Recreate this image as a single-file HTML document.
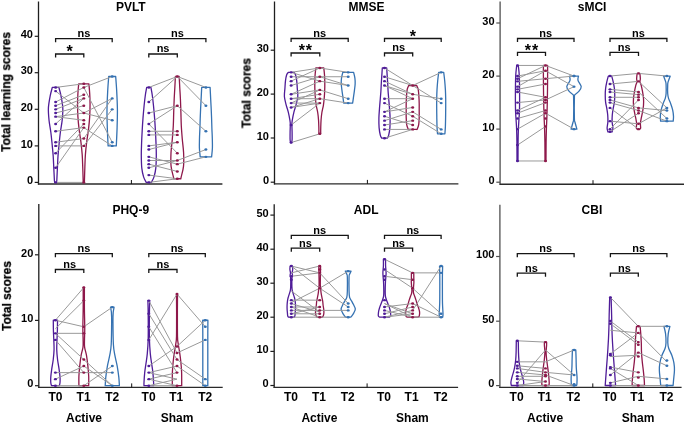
<!DOCTYPE html>
<html><head><meta charset="utf-8"><style>
html,body{margin:0;padding:0;background:#fff;}
svg{display:block;font-family:"Liberation Sans", sans-serif;-webkit-font-smoothing:antialiased;}
text{will-change:transform;}
</style></head><body>
<svg width="685" height="423" viewBox="0 0 685 423">
<rect width="685" height="423" fill="#fff"/>
<line x1="38.50" y1="1.50" x2="38.50" y2="184.60" stroke="#1e1e1e" stroke-width="1.3"/>
<line x1="37.90" y1="184.00" x2="222.40" y2="184.00" stroke="#2a2a2a" stroke-width="1.4"/>
<line x1="131.40" y1="184.00" x2="131.40" y2="180.00" stroke="#111" stroke-width="1.0"/>
<line x1="34.70" y1="182.40" x2="38.50" y2="182.40" stroke="#1e1e1e" stroke-width="1.2"/>
<text x="33.00" y="184.10" font-size="11" text-anchor="end" font-weight="bold" fill="#000">0</text>
<line x1="34.70" y1="145.90" x2="38.50" y2="145.90" stroke="#1e1e1e" stroke-width="1.2"/>
<text x="33.00" y="147.60" font-size="11" text-anchor="end" font-weight="bold" fill="#000">10</text>
<line x1="34.70" y1="109.30" x2="38.50" y2="109.30" stroke="#1e1e1e" stroke-width="1.2"/>
<text x="33.00" y="111.00" font-size="11" text-anchor="end" font-weight="bold" fill="#000">20</text>
<line x1="34.70" y1="72.70" x2="38.50" y2="72.70" stroke="#1e1e1e" stroke-width="1.2"/>
<text x="33.00" y="74.40" font-size="11" text-anchor="end" font-weight="bold" fill="#000">30</text>
<line x1="34.70" y1="36.30" x2="38.50" y2="36.30" stroke="#1e1e1e" stroke-width="1.2"/>
<text x="33.00" y="38.00" font-size="11" text-anchor="end" font-weight="bold" fill="#000">40</text>
<text x="130.80" y="11.20" font-size="12" text-anchor="middle" font-weight="bold" fill="#000">PVLT</text>
<text x="10.20" y="92.00" font-size="12" text-anchor="middle" font-weight="bold" fill="#000" transform="rotate(-90 10.2 92)" stroke="#000" stroke-width="0.25">Total learning scores</text>
<path d="M55.60 42.30V38.70H112.20V42.30" fill="none" stroke="#151515" stroke-width="1.3"/>
<text x="83.90" y="37.00" font-size="11" text-anchor="middle" font-weight="bold" fill="#000">ns</text>
<path d="M55.60 57.60V54.00H83.80V57.60" fill="none" stroke="#151515" stroke-width="1.3"/>
<text x="70.10" y="57.20" font-size="16" text-anchor="middle" font-weight="bold" fill="#000" letter-spacing="0.8">*</text>
<path d="M148.80 42.30V38.70H205.90V42.30" fill="none" stroke="#151515" stroke-width="1.3"/>
<text x="177.35" y="37.00" font-size="11" text-anchor="middle" font-weight="bold" fill="#000">ns</text>
<path d="M148.80 57.60V54.00H177.30V57.60" fill="none" stroke="#151515" stroke-width="1.3"/>
<text x="163.05" y="52.30" font-size="11" text-anchor="middle" font-weight="bold" fill="#000">ns</text>
<path d="M58.90 87.44C59.25 88.84 60.35 92.43 61.00 95.84C61.65 99.24 62.60 103.87 62.80 107.89C63.00 111.91 62.60 115.92 62.20 119.94C61.80 123.96 60.92 127.98 60.40 132.00C59.88 136.01 59.50 140.03 59.10 144.05C58.70 148.07 58.28 152.08 58.00 156.10C57.72 160.12 57.60 164.08 57.40 168.16C57.20 172.23 56.93 178.20 56.80 180.57C56.67 182.95 56.63 182.10 56.60 182.40L54.60 182.40C54.57 182.10 54.53 182.95 54.40 180.57C54.27 178.20 54.00 172.23 53.80 168.16C53.60 164.08 53.48 160.12 53.20 156.10C52.92 152.08 52.50 148.07 52.10 144.05C51.70 140.03 51.32 136.01 50.80 132.00C50.28 127.98 49.40 123.96 49.00 119.94C48.60 115.92 48.20 111.91 48.40 107.89C48.60 103.87 49.55 99.24 50.20 95.84C50.85 92.43 51.95 88.84 52.30 87.44Z" fill="none" stroke="#4f1c98" stroke-width="1.3" stroke-linejoin="round"/>
<path d="M88.90 83.78C89.03 85.43 89.51 90.30 89.70 93.64C89.89 96.99 90.05 100.04 90.05 103.87C90.05 107.71 89.96 112.39 89.70 116.66C89.44 120.92 89.00 125.24 88.50 129.44C88.00 133.64 87.22 137.66 86.70 141.86C86.18 146.06 85.71 150.38 85.40 154.64C85.09 158.90 85.01 163.16 84.85 167.42C84.69 171.69 84.53 177.71 84.45 180.21C84.38 182.70 84.41 182.03 84.40 182.40L83.20 182.40C83.19 182.03 83.22 182.70 83.15 180.21C83.07 177.71 82.91 171.69 82.75 167.42C82.59 163.16 82.51 158.90 82.20 154.64C81.89 150.38 81.42 146.06 80.90 141.86C80.38 137.66 79.60 133.64 79.10 129.44C78.60 125.24 78.16 120.92 77.90 116.66C77.64 112.39 77.55 107.71 77.55 103.87C77.55 100.04 77.71 96.99 77.90 93.64C78.09 90.30 78.57 85.43 78.70 83.78Z" fill="none" stroke="#8e184a" stroke-width="1.3" stroke-linejoin="round"/>
<path d="M115.70 76.48C115.87 78.91 116.42 85.61 116.70 91.09C116.98 96.57 117.33 103.26 117.40 109.35C117.47 115.44 117.28 121.53 117.10 127.61C116.92 133.70 116.43 142.83 116.30 145.88L108.10 145.88C107.97 142.83 107.48 133.70 107.30 127.61C107.12 121.53 106.93 115.44 107.00 109.35C107.07 103.26 107.42 96.57 107.70 91.09C107.98 85.61 108.53 78.91 108.70 76.48Z" fill="none" stroke="#3572b2" stroke-width="1.3" stroke-linejoin="round"/>
<path d="M150.90 87.44C151.13 88.77 151.87 92.43 152.30 95.47C152.73 98.51 153.12 101.92 153.50 105.70C153.88 109.47 154.28 113.98 154.60 118.12C154.92 122.26 155.17 126.40 155.40 130.53C155.63 134.67 155.85 138.81 156.00 142.95C156.15 147.09 156.33 151.17 156.30 155.37C156.27 159.57 156.18 164.56 155.80 168.16C155.42 171.75 154.73 174.55 154.00 176.92C153.27 179.30 151.83 181.49 151.40 182.40L146.20 182.40C145.77 181.49 144.33 179.30 143.60 176.92C142.87 174.55 142.18 171.75 141.80 168.16C141.42 164.56 141.33 159.57 141.30 155.37C141.27 151.17 141.45 147.09 141.60 142.95C141.75 138.81 141.97 134.67 142.20 130.53C142.43 126.40 142.68 122.26 143.00 118.12C143.32 113.98 143.72 109.47 144.10 105.70C144.48 101.92 144.87 98.51 145.30 95.47C145.73 92.43 146.47 88.77 146.70 87.44Z" fill="none" stroke="#4f1c98" stroke-width="1.3" stroke-linejoin="round"/>
<path d="M179.20 76.48C179.30 78.43 179.60 84.45 179.80 88.17C180.00 91.88 180.22 94.68 180.40 98.76C180.58 102.84 180.75 108.13 180.90 112.64C181.05 117.14 181.07 121.34 181.30 125.79C181.53 130.23 181.92 134.80 182.30 139.30C182.68 143.81 183.40 148.31 183.60 152.81C183.80 157.32 183.90 162.31 183.50 166.33C183.10 170.35 181.65 174.85 181.20 176.92C180.75 178.99 180.87 178.44 180.80 178.75L173.80 178.75C173.73 178.44 173.85 178.99 173.40 176.92C172.95 174.85 171.50 170.35 171.10 166.33C170.70 162.31 170.80 157.32 171.00 152.81C171.20 148.31 171.92 143.81 172.30 139.30C172.68 134.80 173.07 130.23 173.30 125.79C173.53 121.34 173.55 117.14 173.70 112.64C173.85 108.13 174.02 102.84 174.20 98.76C174.38 94.68 174.60 91.88 174.80 88.17C175.00 84.45 175.30 78.43 175.40 76.48Z" fill="none" stroke="#8e184a" stroke-width="1.3" stroke-linejoin="round"/>
<path d="M210.10 87.44C210.20 89.44 210.52 95.90 210.70 99.49C210.88 103.08 211.05 105.76 211.20 108.98C211.35 112.21 211.48 115.56 211.60 118.85C211.72 122.13 211.78 125.48 211.90 128.71C212.02 131.93 212.22 134.98 212.30 138.20C212.38 141.43 212.52 144.96 212.40 148.07C212.28 151.17 211.73 155.37 211.60 156.83L200.20 156.83C200.07 155.37 199.52 151.17 199.40 148.07C199.28 144.96 199.42 141.43 199.50 138.20C199.58 134.98 199.78 131.93 199.90 128.71C200.02 125.48 200.08 122.13 200.20 118.85C200.32 115.56 200.45 112.21 200.60 108.98C200.75 105.76 200.92 103.08 201.10 99.49C201.28 95.90 201.60 89.44 201.70 87.44Z" fill="none" stroke="#3572b2" stroke-width="1.3" stroke-linejoin="round"/>
<line x1="55.60" y1="87.44" x2="83.80" y2="83.78" stroke="#999" stroke-width="1.0"/>
<line x1="55.60" y1="91.09" x2="83.80" y2="113.00" stroke="#999" stroke-width="1.0"/>
<line x1="55.60" y1="102.05" x2="83.80" y2="87.44" stroke="#999" stroke-width="1.0"/>
<line x1="55.60" y1="105.70" x2="83.80" y2="94.74" stroke="#999" stroke-width="1.0"/>
<line x1="55.60" y1="109.35" x2="83.80" y2="98.39" stroke="#999" stroke-width="1.0"/>
<line x1="55.60" y1="113.00" x2="83.80" y2="105.70" stroke="#999" stroke-width="1.0"/>
<line x1="55.60" y1="116.66" x2="83.80" y2="113.00" stroke="#999" stroke-width="1.0"/>
<line x1="55.60" y1="116.66" x2="83.80" y2="120.31" stroke="#999" stroke-width="1.0"/>
<line x1="55.60" y1="123.96" x2="83.80" y2="98.39" stroke="#999" stroke-width="1.0"/>
<line x1="55.60" y1="131.27" x2="83.80" y2="127.61" stroke="#999" stroke-width="1.0"/>
<line x1="55.60" y1="142.22" x2="83.80" y2="138.57" stroke="#999" stroke-width="1.0"/>
<line x1="55.60" y1="145.88" x2="83.80" y2="145.88" stroke="#999" stroke-width="1.0"/>
<line x1="55.60" y1="153.18" x2="83.80" y2="123.96" stroke="#999" stroke-width="1.0"/>
<line x1="55.60" y1="167.79" x2="83.80" y2="127.61" stroke="#999" stroke-width="1.0"/>
<line x1="55.60" y1="182.40" x2="83.80" y2="182.40" stroke="#999" stroke-width="1.0"/>
<line x1="83.80" y1="87.44" x2="112.20" y2="76.48" stroke="#999" stroke-width="1.0"/>
<line x1="83.80" y1="113.00" x2="112.20" y2="98.39" stroke="#999" stroke-width="1.0"/>
<line x1="83.80" y1="138.57" x2="112.20" y2="98.39" stroke="#999" stroke-width="1.0"/>
<line x1="83.80" y1="145.88" x2="112.20" y2="109.35" stroke="#999" stroke-width="1.0"/>
<line x1="83.80" y1="113.00" x2="112.20" y2="120.31" stroke="#999" stroke-width="1.0"/>
<line x1="83.80" y1="87.44" x2="112.20" y2="142.22" stroke="#999" stroke-width="1.0"/>
<line x1="83.80" y1="127.61" x2="112.20" y2="145.88" stroke="#999" stroke-width="1.0"/>
<line x1="148.80" y1="87.44" x2="177.30" y2="76.48" stroke="#999" stroke-width="1.0"/>
<line x1="148.80" y1="102.05" x2="177.30" y2="76.48" stroke="#999" stroke-width="1.0"/>
<line x1="148.80" y1="113.00" x2="177.30" y2="105.70" stroke="#999" stroke-width="1.0"/>
<line x1="148.80" y1="123.96" x2="177.30" y2="105.70" stroke="#999" stroke-width="1.0"/>
<line x1="148.80" y1="123.96" x2="177.30" y2="153.18" stroke="#999" stroke-width="1.0"/>
<line x1="148.80" y1="131.27" x2="177.30" y2="131.27" stroke="#999" stroke-width="1.0"/>
<line x1="148.80" y1="134.92" x2="177.30" y2="134.92" stroke="#999" stroke-width="1.0"/>
<line x1="148.80" y1="145.88" x2="177.30" y2="142.22" stroke="#999" stroke-width="1.0"/>
<line x1="148.80" y1="149.53" x2="177.30" y2="142.22" stroke="#999" stroke-width="1.0"/>
<line x1="148.80" y1="156.83" x2="177.30" y2="164.14" stroke="#999" stroke-width="1.0"/>
<line x1="148.80" y1="160.49" x2="177.30" y2="160.49" stroke="#999" stroke-width="1.0"/>
<line x1="148.80" y1="164.14" x2="177.30" y2="171.44" stroke="#999" stroke-width="1.0"/>
<line x1="148.80" y1="167.79" x2="177.30" y2="160.49" stroke="#999" stroke-width="1.0"/>
<line x1="148.80" y1="175.09" x2="177.30" y2="178.75" stroke="#999" stroke-width="1.0"/>
<line x1="148.80" y1="182.40" x2="177.30" y2="178.75" stroke="#999" stroke-width="1.0"/>
<line x1="177.30" y1="76.48" x2="205.90" y2="87.44" stroke="#999" stroke-width="1.0"/>
<line x1="177.30" y1="76.48" x2="205.90" y2="105.70" stroke="#999" stroke-width="1.0"/>
<line x1="177.30" y1="105.70" x2="205.90" y2="131.27" stroke="#999" stroke-width="1.0"/>
<line x1="177.30" y1="160.49" x2="205.90" y2="149.53" stroke="#999" stroke-width="1.0"/>
<line x1="177.30" y1="164.14" x2="205.90" y2="156.83" stroke="#999" stroke-width="1.0"/>
<ellipse cx="55.60" cy="87.44" rx="1.5" ry="1.2" fill="#4f1c98"/>
<ellipse cx="55.60" cy="91.09" rx="1.5" ry="1.2" fill="#4f1c98"/>
<ellipse cx="55.60" cy="102.05" rx="1.5" ry="1.2" fill="#4f1c98"/>
<ellipse cx="55.60" cy="105.70" rx="1.5" ry="1.2" fill="#4f1c98"/>
<ellipse cx="55.60" cy="109.35" rx="1.5" ry="1.2" fill="#4f1c98"/>
<ellipse cx="55.60" cy="113.00" rx="1.5" ry="1.2" fill="#4f1c98"/>
<ellipse cx="55.60" cy="116.66" rx="1.5" ry="1.2" fill="#4f1c98"/>
<ellipse cx="55.60" cy="123.96" rx="1.5" ry="1.2" fill="#4f1c98"/>
<ellipse cx="55.60" cy="131.27" rx="1.5" ry="1.2" fill="#4f1c98"/>
<ellipse cx="55.60" cy="142.22" rx="1.5" ry="1.2" fill="#4f1c98"/>
<ellipse cx="55.60" cy="145.88" rx="1.5" ry="1.2" fill="#4f1c98"/>
<ellipse cx="55.60" cy="153.18" rx="1.5" ry="1.2" fill="#4f1c98"/>
<ellipse cx="55.60" cy="167.79" rx="1.5" ry="1.2" fill="#4f1c98"/>
<ellipse cx="55.60" cy="182.40" rx="1.5" ry="1.2" fill="#4f1c98"/>
<ellipse cx="83.80" cy="83.78" rx="1.5" ry="1.2" fill="#8e184a"/>
<ellipse cx="83.80" cy="87.44" rx="1.5" ry="1.2" fill="#8e184a"/>
<ellipse cx="83.80" cy="94.74" rx="1.5" ry="1.2" fill="#8e184a"/>
<ellipse cx="83.80" cy="98.39" rx="1.5" ry="1.2" fill="#8e184a"/>
<ellipse cx="83.80" cy="105.70" rx="1.5" ry="1.2" fill="#8e184a"/>
<ellipse cx="83.80" cy="113.00" rx="1.5" ry="1.2" fill="#8e184a"/>
<ellipse cx="83.80" cy="120.31" rx="1.5" ry="1.2" fill="#8e184a"/>
<ellipse cx="83.80" cy="123.96" rx="1.5" ry="1.2" fill="#8e184a"/>
<ellipse cx="83.80" cy="127.61" rx="1.5" ry="1.2" fill="#8e184a"/>
<ellipse cx="83.80" cy="138.57" rx="1.5" ry="1.2" fill="#8e184a"/>
<ellipse cx="83.80" cy="145.88" rx="1.5" ry="1.2" fill="#8e184a"/>
<ellipse cx="83.80" cy="182.40" rx="1.5" ry="1.2" fill="#8e184a"/>
<ellipse cx="112.20" cy="76.48" rx="1.5" ry="1.2" fill="#3572b2"/>
<ellipse cx="112.20" cy="98.39" rx="1.5" ry="1.2" fill="#3572b2"/>
<ellipse cx="112.20" cy="109.35" rx="1.5" ry="1.2" fill="#3572b2"/>
<ellipse cx="112.20" cy="120.31" rx="1.5" ry="1.2" fill="#3572b2"/>
<ellipse cx="112.20" cy="142.22" rx="1.5" ry="1.2" fill="#3572b2"/>
<ellipse cx="112.20" cy="145.88" rx="1.5" ry="1.2" fill="#3572b2"/>
<ellipse cx="148.80" cy="87.44" rx="1.5" ry="1.2" fill="#4f1c98"/>
<ellipse cx="148.80" cy="102.05" rx="1.5" ry="1.2" fill="#4f1c98"/>
<ellipse cx="148.80" cy="113.00" rx="1.5" ry="1.2" fill="#4f1c98"/>
<ellipse cx="148.80" cy="123.96" rx="1.5" ry="1.2" fill="#4f1c98"/>
<ellipse cx="148.80" cy="131.27" rx="1.5" ry="1.2" fill="#4f1c98"/>
<ellipse cx="148.80" cy="134.92" rx="1.5" ry="1.2" fill="#4f1c98"/>
<ellipse cx="148.80" cy="145.88" rx="1.5" ry="1.2" fill="#4f1c98"/>
<ellipse cx="148.80" cy="149.53" rx="1.5" ry="1.2" fill="#4f1c98"/>
<ellipse cx="148.80" cy="156.83" rx="1.5" ry="1.2" fill="#4f1c98"/>
<ellipse cx="148.80" cy="160.49" rx="1.5" ry="1.2" fill="#4f1c98"/>
<ellipse cx="148.80" cy="164.14" rx="1.5" ry="1.2" fill="#4f1c98"/>
<ellipse cx="148.80" cy="167.79" rx="1.5" ry="1.2" fill="#4f1c98"/>
<ellipse cx="148.80" cy="175.09" rx="1.5" ry="1.2" fill="#4f1c98"/>
<ellipse cx="148.80" cy="182.40" rx="1.5" ry="1.2" fill="#4f1c98"/>
<ellipse cx="177.30" cy="76.48" rx="1.5" ry="1.2" fill="#8e184a"/>
<ellipse cx="177.30" cy="105.70" rx="1.5" ry="1.2" fill="#8e184a"/>
<ellipse cx="177.30" cy="131.27" rx="1.5" ry="1.2" fill="#8e184a"/>
<ellipse cx="177.30" cy="134.92" rx="1.5" ry="1.2" fill="#8e184a"/>
<ellipse cx="177.30" cy="142.22" rx="1.5" ry="1.2" fill="#8e184a"/>
<ellipse cx="177.30" cy="153.18" rx="1.5" ry="1.2" fill="#8e184a"/>
<ellipse cx="177.30" cy="160.49" rx="1.5" ry="1.2" fill="#8e184a"/>
<ellipse cx="177.30" cy="164.14" rx="1.5" ry="1.2" fill="#8e184a"/>
<ellipse cx="177.30" cy="171.44" rx="1.5" ry="1.2" fill="#8e184a"/>
<ellipse cx="177.30" cy="178.75" rx="1.5" ry="1.2" fill="#8e184a"/>
<ellipse cx="205.90" cy="87.44" rx="1.5" ry="1.2" fill="#3572b2"/>
<ellipse cx="205.90" cy="105.70" rx="1.5" ry="1.2" fill="#3572b2"/>
<ellipse cx="205.90" cy="131.27" rx="1.5" ry="1.2" fill="#3572b2"/>
<ellipse cx="205.90" cy="149.53" rx="1.5" ry="1.2" fill="#3572b2"/>
<ellipse cx="205.90" cy="156.83" rx="1.5" ry="1.2" fill="#3572b2"/>
<line x1="274.50" y1="1.50" x2="274.50" y2="184.50" stroke="#1e1e1e" stroke-width="1.3"/>
<line x1="273.90" y1="183.90" x2="458.40" y2="183.90" stroke="#2a2a2a" stroke-width="1.4"/>
<line x1="367.40" y1="183.90" x2="367.40" y2="179.90" stroke="#111" stroke-width="1.0"/>
<line x1="270.70" y1="182.20" x2="274.50" y2="182.20" stroke="#1e1e1e" stroke-width="1.2"/>
<text x="269.00" y="183.90" font-size="11" text-anchor="end" font-weight="bold" fill="#000">0</text>
<line x1="270.70" y1="138.00" x2="274.50" y2="138.00" stroke="#1e1e1e" stroke-width="1.2"/>
<text x="269.00" y="139.70" font-size="11" text-anchor="end" font-weight="bold" fill="#000">10</text>
<line x1="270.70" y1="94.10" x2="274.50" y2="94.10" stroke="#1e1e1e" stroke-width="1.2"/>
<text x="269.00" y="95.80" font-size="11" text-anchor="end" font-weight="bold" fill="#000">20</text>
<line x1="270.70" y1="50.20" x2="274.50" y2="50.20" stroke="#1e1e1e" stroke-width="1.2"/>
<text x="269.00" y="51.90" font-size="11" text-anchor="end" font-weight="bold" fill="#000">30</text>
<text x="366.50" y="11.20" font-size="12" text-anchor="middle" font-weight="bold" fill="#000">MMSE</text>
<text x="250.50" y="93.00" font-size="12" text-anchor="middle" font-weight="bold" fill="#000" transform="rotate(-90 250.5 93)" stroke="#000" stroke-width="0.25">Total scores</text>
<path d="M291.10 42.10V38.50H348.20V42.10" fill="none" stroke="#151515" stroke-width="1.3"/>
<text x="319.65" y="36.80" font-size="11" text-anchor="middle" font-weight="bold" fill="#000">ns</text>
<path d="M291.10 56.60V53.00H319.80V56.60" fill="none" stroke="#151515" stroke-width="1.3"/>
<text x="305.85" y="56.20" font-size="16" text-anchor="middle" font-weight="bold" fill="#000" letter-spacing="0.8">**</text>
<path d="M384.50 42.10V38.50H441.20V42.10" fill="none" stroke="#151515" stroke-width="1.3"/>
<text x="413.25" y="41.70" font-size="16" text-anchor="middle" font-weight="bold" fill="#000" letter-spacing="0.8">*</text>
<path d="M384.50 56.60V53.00H412.70V56.60" fill="none" stroke="#151515" stroke-width="1.3"/>
<text x="398.60" y="51.30" font-size="11" text-anchor="middle" font-weight="bold" fill="#000">ns</text>
<path d="M293.90 72.35C294.18 72.79 295.13 73.59 295.60 74.98C296.07 76.37 296.42 78.42 296.70 80.69C296.98 82.96 297.12 85.96 297.30 88.59C297.48 91.23 297.98 93.86 297.80 96.50C297.62 99.13 296.86 101.76 296.20 104.40C295.54 107.03 294.50 109.66 293.85 112.30C293.20 114.93 292.62 118.23 292.30 120.20C291.98 122.18 291.93 122.18 291.90 124.15C291.87 126.13 292.07 129.49 292.10 132.05C292.13 134.61 292.17 137.76 292.10 139.52C292.03 141.27 291.77 142.08 291.70 142.59L290.50 142.59C290.43 142.08 290.17 141.27 290.10 139.52C290.03 137.76 290.07 134.61 290.10 132.05C290.13 129.49 290.33 126.13 290.30 124.15C290.27 122.18 290.23 122.18 289.90 120.20C289.58 118.23 289.00 114.93 288.35 112.30C287.70 109.66 286.66 107.03 286.00 104.40C285.34 101.76 284.58 99.13 284.40 96.50C284.22 93.86 284.72 91.23 284.90 88.59C285.08 85.96 285.22 82.96 285.50 80.69C285.78 78.42 286.13 76.37 286.60 74.98C287.07 73.59 288.02 72.79 288.30 72.35Z" fill="none" stroke="#4f1c98" stroke-width="1.3" stroke-linejoin="round"/>
<path d="M323.80 67.96C323.93 69.20 324.38 72.94 324.55 75.42C324.72 77.91 324.78 80.40 324.80 82.89C324.82 85.37 324.79 87.86 324.70 90.35C324.61 92.84 324.47 95.32 324.25 97.81C324.03 100.30 323.80 102.79 323.40 105.28C323.00 107.76 322.24 110.25 321.85 112.74C321.46 115.23 321.23 117.71 321.05 120.20C320.87 122.69 320.81 125.40 320.75 127.66C320.69 129.93 320.71 132.79 320.70 133.81L318.90 133.81C318.89 132.79 318.91 129.93 318.85 127.66C318.79 125.40 318.73 122.69 318.55 120.20C318.37 117.71 318.14 115.23 317.75 112.74C317.36 110.25 316.60 107.76 316.20 105.28C315.80 102.79 315.57 100.30 315.35 97.81C315.13 95.32 314.99 92.84 314.90 90.35C314.81 87.86 314.78 85.37 314.80 82.89C314.82 80.40 314.88 77.91 315.05 75.42C315.22 72.94 315.68 69.20 315.80 67.96Z" fill="none" stroke="#8e184a" stroke-width="1.3" stroke-linejoin="round"/>
<path d="M353.60 72.35C353.82 73.30 354.64 76.15 354.90 78.06C355.16 79.96 355.22 81.79 355.15 83.76C355.08 85.74 354.74 87.93 354.50 89.91C354.26 91.89 353.97 93.71 353.70 95.62C353.43 97.52 353.08 100.08 352.90 101.32C352.72 102.57 352.65 102.79 352.60 103.08L343.80 103.08C343.75 102.79 343.68 102.57 343.50 101.32C343.32 100.08 342.97 97.52 342.70 95.62C342.43 93.71 342.14 91.89 341.90 89.91C341.66 87.93 341.32 85.74 341.25 83.76C341.18 81.79 341.24 79.96 341.50 78.06C341.76 76.15 342.58 73.30 342.80 72.35Z" fill="none" stroke="#3572b2" stroke-width="1.3" stroke-linejoin="round"/>
<path d="M386.70 67.96C386.78 69.28 387.03 73.30 387.20 75.86C387.37 78.42 387.55 80.76 387.70 83.33C387.85 85.89 387.93 88.67 388.10 91.23C388.27 93.79 388.47 95.84 388.70 98.69C388.93 101.54 389.27 105.13 389.50 108.35C389.73 111.57 390.03 114.79 390.10 118.01C390.17 121.23 390.13 124.81 389.90 127.66C389.67 130.52 389.13 133.37 388.70 135.13C388.27 136.88 387.53 137.69 387.30 138.20L381.70 138.20C381.47 137.69 380.73 136.88 380.30 135.13C379.87 133.37 379.33 130.52 379.10 127.66C378.87 124.81 378.83 121.23 378.90 118.01C378.97 114.79 379.27 111.57 379.50 108.35C379.73 105.13 380.07 101.54 380.30 98.69C380.53 95.84 380.73 93.79 380.90 91.23C381.07 88.67 381.15 85.89 381.30 83.33C381.45 80.76 381.63 78.42 381.80 75.86C381.97 73.30 382.22 69.28 382.30 67.96Z" fill="none" stroke="#4f1c98" stroke-width="1.3" stroke-linejoin="round"/>
<path d="M416.70 85.52C416.95 86.18 417.83 87.64 418.20 89.47C418.57 91.30 418.73 94.15 418.90 96.50C419.07 98.84 419.15 101.18 419.20 103.52C419.25 105.86 419.20 108.20 419.20 110.54C419.20 112.88 419.28 115.23 419.20 117.57C419.12 119.91 419.02 122.69 418.70 124.59C418.38 126.49 417.63 128.18 417.30 128.98C416.97 129.79 416.80 129.35 416.70 129.42L408.70 129.42C408.60 129.35 408.43 129.79 408.10 128.98C407.77 128.18 407.02 126.49 406.70 124.59C406.38 122.69 406.28 119.91 406.20 117.57C406.12 115.23 406.20 112.88 406.20 110.54C406.20 108.20 406.15 105.86 406.20 103.52C406.25 101.18 406.33 98.84 406.50 96.50C406.67 94.15 406.83 91.30 407.20 89.47C407.57 87.64 408.45 86.18 408.70 85.52Z" fill="none" stroke="#8e184a" stroke-width="1.3" stroke-linejoin="round"/>
<path d="M443.70 72.35C443.87 73.74 444.42 77.76 444.70 80.69C444.98 83.62 445.23 86.84 445.40 89.91C445.57 92.98 445.65 96.06 445.70 99.13C445.75 102.20 445.72 105.35 445.70 108.35C445.68 111.35 445.65 114.13 445.60 117.13C445.55 120.13 445.52 123.57 445.40 126.35C445.28 129.13 444.98 132.57 444.90 133.81L437.50 133.81C437.42 132.57 437.12 129.13 437.00 126.35C436.88 123.57 436.85 120.13 436.80 117.13C436.75 114.13 436.72 111.35 436.70 108.35C436.68 105.35 436.65 102.20 436.70 99.13C436.75 96.06 436.83 92.98 437.00 89.91C437.17 86.84 437.42 83.62 437.70 80.69C437.98 77.76 438.53 73.74 438.70 72.35Z" fill="none" stroke="#3572b2" stroke-width="1.3" stroke-linejoin="round"/>
<line x1="291.10" y1="72.35" x2="319.80" y2="67.96" stroke="#999" stroke-width="1.0"/>
<line x1="291.10" y1="72.35" x2="319.80" y2="81.13" stroke="#999" stroke-width="1.0"/>
<line x1="291.10" y1="76.74" x2="319.80" y2="76.74" stroke="#999" stroke-width="1.0"/>
<line x1="291.10" y1="81.13" x2="319.80" y2="67.96" stroke="#999" stroke-width="1.0"/>
<line x1="291.10" y1="85.52" x2="319.80" y2="76.74" stroke="#999" stroke-width="1.0"/>
<line x1="291.10" y1="94.30" x2="319.80" y2="89.91" stroke="#999" stroke-width="1.0"/>
<line x1="291.10" y1="94.30" x2="319.80" y2="81.13" stroke="#999" stroke-width="1.0"/>
<line x1="291.10" y1="98.69" x2="319.80" y2="94.30" stroke="#999" stroke-width="1.0"/>
<line x1="291.10" y1="98.69" x2="319.80" y2="98.69" stroke="#999" stroke-width="1.0"/>
<line x1="291.10" y1="103.08" x2="319.80" y2="89.91" stroke="#999" stroke-width="1.0"/>
<line x1="291.10" y1="103.08" x2="319.80" y2="103.08" stroke="#999" stroke-width="1.0"/>
<line x1="291.10" y1="107.47" x2="319.80" y2="98.69" stroke="#999" stroke-width="1.0"/>
<line x1="291.10" y1="107.47" x2="319.80" y2="103.08" stroke="#999" stroke-width="1.0"/>
<line x1="291.10" y1="125.03" x2="319.80" y2="103.08" stroke="#999" stroke-width="1.0"/>
<line x1="291.10" y1="142.59" x2="319.80" y2="133.81" stroke="#999" stroke-width="1.0"/>
<line x1="319.80" y1="67.96" x2="348.20" y2="72.35" stroke="#999" stroke-width="1.0"/>
<line x1="319.80" y1="76.74" x2="348.20" y2="76.74" stroke="#999" stroke-width="1.0"/>
<line x1="319.80" y1="81.13" x2="348.20" y2="85.52" stroke="#999" stroke-width="1.0"/>
<line x1="319.80" y1="76.74" x2="348.20" y2="85.52" stroke="#999" stroke-width="1.0"/>
<line x1="319.80" y1="89.91" x2="348.20" y2="98.69" stroke="#999" stroke-width="1.0"/>
<line x1="319.80" y1="98.69" x2="348.20" y2="103.08" stroke="#999" stroke-width="1.0"/>
<line x1="384.50" y1="67.96" x2="412.70" y2="85.52" stroke="#999" stroke-width="1.0"/>
<line x1="384.50" y1="76.74" x2="412.70" y2="85.52" stroke="#999" stroke-width="1.0"/>
<line x1="384.50" y1="81.13" x2="412.70" y2="94.30" stroke="#999" stroke-width="1.0"/>
<line x1="384.50" y1="85.52" x2="412.70" y2="98.69" stroke="#999" stroke-width="1.0"/>
<line x1="384.50" y1="85.52" x2="412.70" y2="94.30" stroke="#999" stroke-width="1.0"/>
<line x1="384.50" y1="98.69" x2="412.70" y2="98.69" stroke="#999" stroke-width="1.0"/>
<line x1="384.50" y1="103.08" x2="412.70" y2="116.25" stroke="#999" stroke-width="1.0"/>
<line x1="384.50" y1="111.86" x2="412.70" y2="98.69" stroke="#999" stroke-width="1.0"/>
<line x1="384.50" y1="111.86" x2="412.70" y2="107.47" stroke="#999" stroke-width="1.0"/>
<line x1="384.50" y1="116.25" x2="412.70" y2="125.03" stroke="#999" stroke-width="1.0"/>
<line x1="384.50" y1="120.64" x2="412.70" y2="111.86" stroke="#999" stroke-width="1.0"/>
<line x1="384.50" y1="125.03" x2="412.70" y2="120.64" stroke="#999" stroke-width="1.0"/>
<line x1="384.50" y1="129.42" x2="412.70" y2="129.42" stroke="#999" stroke-width="1.0"/>
<line x1="384.50" y1="138.20" x2="412.70" y2="129.42" stroke="#999" stroke-width="1.0"/>
<line x1="412.70" y1="85.52" x2="441.20" y2="72.35" stroke="#999" stroke-width="1.0"/>
<line x1="412.70" y1="85.52" x2="441.20" y2="103.08" stroke="#999" stroke-width="1.0"/>
<line x1="412.70" y1="94.30" x2="441.20" y2="98.69" stroke="#999" stroke-width="1.0"/>
<line x1="412.70" y1="111.86" x2="441.20" y2="129.42" stroke="#999" stroke-width="1.0"/>
<line x1="412.70" y1="116.25" x2="441.20" y2="133.81" stroke="#999" stroke-width="1.0"/>
<ellipse cx="291.10" cy="72.35" rx="1.5" ry="1.2" fill="#4f1c98"/>
<ellipse cx="291.10" cy="76.74" rx="1.5" ry="1.2" fill="#4f1c98"/>
<ellipse cx="291.10" cy="81.13" rx="1.5" ry="1.2" fill="#4f1c98"/>
<ellipse cx="291.10" cy="85.52" rx="1.5" ry="1.2" fill="#4f1c98"/>
<ellipse cx="291.10" cy="94.30" rx="1.5" ry="1.2" fill="#4f1c98"/>
<ellipse cx="291.10" cy="98.69" rx="1.5" ry="1.2" fill="#4f1c98"/>
<ellipse cx="291.10" cy="103.08" rx="1.5" ry="1.2" fill="#4f1c98"/>
<ellipse cx="291.10" cy="107.47" rx="1.5" ry="1.2" fill="#4f1c98"/>
<ellipse cx="291.10" cy="125.03" rx="1.5" ry="1.2" fill="#4f1c98"/>
<ellipse cx="291.10" cy="142.59" rx="1.5" ry="1.2" fill="#4f1c98"/>
<ellipse cx="319.80" cy="67.96" rx="1.5" ry="1.2" fill="#8e184a"/>
<ellipse cx="319.80" cy="76.74" rx="1.5" ry="1.2" fill="#8e184a"/>
<ellipse cx="319.80" cy="81.13" rx="1.5" ry="1.2" fill="#8e184a"/>
<ellipse cx="319.80" cy="89.91" rx="1.5" ry="1.2" fill="#8e184a"/>
<ellipse cx="319.80" cy="94.30" rx="1.5" ry="1.2" fill="#8e184a"/>
<ellipse cx="319.80" cy="98.69" rx="1.5" ry="1.2" fill="#8e184a"/>
<ellipse cx="319.80" cy="103.08" rx="1.5" ry="1.2" fill="#8e184a"/>
<ellipse cx="319.80" cy="133.81" rx="1.5" ry="1.2" fill="#8e184a"/>
<ellipse cx="348.20" cy="72.35" rx="1.5" ry="1.2" fill="#3572b2"/>
<ellipse cx="348.20" cy="76.74" rx="1.5" ry="1.2" fill="#3572b2"/>
<ellipse cx="348.20" cy="85.52" rx="1.5" ry="1.2" fill="#3572b2"/>
<ellipse cx="348.20" cy="98.69" rx="1.5" ry="1.2" fill="#3572b2"/>
<ellipse cx="348.20" cy="103.08" rx="1.5" ry="1.2" fill="#3572b2"/>
<ellipse cx="384.50" cy="67.96" rx="1.5" ry="1.2" fill="#4f1c98"/>
<ellipse cx="384.50" cy="76.74" rx="1.5" ry="1.2" fill="#4f1c98"/>
<ellipse cx="384.50" cy="81.13" rx="1.5" ry="1.2" fill="#4f1c98"/>
<ellipse cx="384.50" cy="85.52" rx="1.5" ry="1.2" fill="#4f1c98"/>
<ellipse cx="384.50" cy="98.69" rx="1.5" ry="1.2" fill="#4f1c98"/>
<ellipse cx="384.50" cy="103.08" rx="1.5" ry="1.2" fill="#4f1c98"/>
<ellipse cx="384.50" cy="111.86" rx="1.5" ry="1.2" fill="#4f1c98"/>
<ellipse cx="384.50" cy="116.25" rx="1.5" ry="1.2" fill="#4f1c98"/>
<ellipse cx="384.50" cy="120.64" rx="1.5" ry="1.2" fill="#4f1c98"/>
<ellipse cx="384.50" cy="125.03" rx="1.5" ry="1.2" fill="#4f1c98"/>
<ellipse cx="384.50" cy="129.42" rx="1.5" ry="1.2" fill="#4f1c98"/>
<ellipse cx="384.50" cy="138.20" rx="1.5" ry="1.2" fill="#4f1c98"/>
<ellipse cx="412.70" cy="85.52" rx="1.5" ry="1.2" fill="#8e184a"/>
<ellipse cx="412.70" cy="94.30" rx="1.5" ry="1.2" fill="#8e184a"/>
<ellipse cx="412.70" cy="98.69" rx="1.5" ry="1.2" fill="#8e184a"/>
<ellipse cx="412.70" cy="107.47" rx="1.5" ry="1.2" fill="#8e184a"/>
<ellipse cx="412.70" cy="111.86" rx="1.5" ry="1.2" fill="#8e184a"/>
<ellipse cx="412.70" cy="116.25" rx="1.5" ry="1.2" fill="#8e184a"/>
<ellipse cx="412.70" cy="120.64" rx="1.5" ry="1.2" fill="#8e184a"/>
<ellipse cx="412.70" cy="125.03" rx="1.5" ry="1.2" fill="#8e184a"/>
<ellipse cx="412.70" cy="129.42" rx="1.5" ry="1.2" fill="#8e184a"/>
<ellipse cx="441.20" cy="72.35" rx="1.5" ry="1.2" fill="#3572b2"/>
<ellipse cx="441.20" cy="98.69" rx="1.5" ry="1.2" fill="#3572b2"/>
<ellipse cx="441.20" cy="103.08" rx="1.5" ry="1.2" fill="#3572b2"/>
<ellipse cx="441.20" cy="129.42" rx="1.5" ry="1.2" fill="#3572b2"/>
<ellipse cx="441.20" cy="133.81" rx="1.5" ry="1.2" fill="#3572b2"/>
<line x1="500.10" y1="1.50" x2="500.10" y2="184.80" stroke="#505050" stroke-width="1.3"/>
<line x1="499.50" y1="184.20" x2="684.00" y2="184.20" stroke="#2a2a2a" stroke-width="1.4"/>
<line x1="593.00" y1="184.20" x2="593.00" y2="180.20" stroke="#111" stroke-width="1.0"/>
<line x1="496.30" y1="182.20" x2="500.10" y2="182.20" stroke="#505050" stroke-width="1.2"/>
<text x="494.60" y="183.90" font-size="11" text-anchor="end" font-weight="bold" fill="#000">0</text>
<line x1="496.30" y1="129.10" x2="500.10" y2="129.10" stroke="#505050" stroke-width="1.2"/>
<text x="494.60" y="130.80" font-size="11" text-anchor="end" font-weight="bold" fill="#000">10</text>
<line x1="496.30" y1="76.10" x2="500.10" y2="76.10" stroke="#505050" stroke-width="1.2"/>
<text x="494.60" y="77.80" font-size="11" text-anchor="end" font-weight="bold" fill="#000">20</text>
<line x1="496.30" y1="23.00" x2="500.10" y2="23.00" stroke="#505050" stroke-width="1.2"/>
<text x="494.60" y="24.70" font-size="11" text-anchor="end" font-weight="bold" fill="#000">30</text>
<text x="592.10" y="11.20" font-size="12" text-anchor="middle" font-weight="bold" fill="#000">sMCI</text>
<path d="M517.50 42.10V38.50H574.00V42.10" fill="none" stroke="#151515" stroke-width="1.3"/>
<text x="545.75" y="36.80" font-size="11" text-anchor="middle" font-weight="bold" fill="#000">ns</text>
<path d="M517.50 55.90V52.30H545.50V55.90" fill="none" stroke="#151515" stroke-width="1.3"/>
<text x="531.90" y="55.50" font-size="16" text-anchor="middle" font-weight="bold" fill="#000" letter-spacing="0.8">**</text>
<path d="M610.00 42.10V38.50H666.90V42.10" fill="none" stroke="#151515" stroke-width="1.3"/>
<text x="638.45" y="36.80" font-size="11" text-anchor="middle" font-weight="bold" fill="#000">ns</text>
<path d="M610.00 55.90V52.30H638.50V55.90" fill="none" stroke="#151515" stroke-width="1.3"/>
<text x="624.25" y="50.60" font-size="11" text-anchor="middle" font-weight="bold" fill="#000">ns</text>
<path d="M518.30 65.45C518.47 67.21 519.08 71.20 519.30 76.06C519.52 80.92 519.56 89.59 519.60 94.63C519.64 99.68 519.59 103.21 519.55 106.31C519.51 109.41 519.46 110.91 519.35 113.21C519.24 115.51 519.07 117.28 518.90 120.11C518.73 122.94 518.48 126.65 518.35 130.19C518.22 133.73 518.16 136.21 518.10 141.34C518.04 146.47 518.02 157.70 518.00 160.97L517.00 160.97C516.98 157.70 516.96 146.47 516.90 141.34C516.84 136.21 516.78 133.73 516.65 130.19C516.52 126.65 516.27 122.94 516.10 120.11C515.93 117.28 515.76 115.51 515.65 113.21C515.54 110.91 515.49 109.41 515.45 106.31C515.41 103.21 515.36 99.68 515.40 94.63C515.44 89.59 515.48 80.92 515.70 76.06C515.92 71.20 516.53 67.21 516.70 65.45Z" fill="none" stroke="#4f1c98" stroke-width="1.3" stroke-linejoin="round"/>
<path d="M547.60 65.45C547.60 67.21 547.62 72.08 547.60 76.06C547.58 80.04 547.55 84.90 547.50 89.33C547.45 93.75 547.40 98.00 547.30 102.59C547.20 107.19 547.05 112.50 546.90 116.92C546.75 121.35 546.53 124.88 546.40 129.13C546.27 133.38 546.17 137.09 546.10 142.40C546.03 147.70 546.02 157.88 546.00 160.97L545.00 160.97C544.98 157.88 544.97 147.70 544.90 142.40C544.83 137.09 544.73 133.38 544.60 129.13C544.47 124.88 544.25 121.35 544.10 116.92C543.95 112.50 543.80 107.19 543.70 102.59C543.60 98.00 543.55 93.75 543.50 89.33C543.45 84.90 543.42 80.04 543.40 76.06C543.38 72.08 543.40 67.21 543.40 65.45Z" fill="none" stroke="#8e184a" stroke-width="1.3" stroke-linejoin="round"/>
<path d="M578.50 76.06C578.42 76.77 577.55 78.54 578.00 80.31C578.45 82.07 581.07 84.82 581.20 86.67C581.33 88.53 579.83 90.12 578.80 91.45C577.77 92.78 575.73 93.57 575.00 94.63C574.27 95.70 574.50 93.84 574.40 97.82C574.30 101.80 574.30 114.45 574.40 118.52C574.50 122.58 574.58 120.46 575.00 122.23C575.42 124.00 576.58 127.98 576.90 129.13L571.10 129.13C571.42 127.98 572.58 124.00 573.00 122.23C573.42 120.46 573.50 122.58 573.60 118.52C573.70 114.45 573.70 101.80 573.60 97.82C573.50 93.84 573.73 95.70 573.00 94.63C572.27 93.57 570.23 92.78 569.20 91.45C568.17 90.12 566.67 88.53 566.80 86.67C566.93 84.82 569.55 82.07 570.00 80.31C570.45 78.54 569.58 76.77 569.50 76.06Z" fill="none" stroke="#3572b2" stroke-width="1.3" stroke-linejoin="round"/>
<path d="M611.70 76.06C611.95 77.03 612.75 79.82 613.20 81.90C613.65 83.98 614.14 86.32 614.40 88.53C614.66 90.74 614.75 92.91 614.75 95.17C614.75 97.42 614.66 99.85 614.40 102.06C614.14 104.28 613.55 106.31 613.20 108.43C612.85 110.56 612.48 112.59 612.30 114.80C612.12 117.01 612.00 119.49 612.10 121.70C612.20 123.91 612.90 126.39 612.90 128.07C612.90 129.75 612.23 131.16 612.10 131.78L607.90 131.78C607.77 131.16 607.10 129.75 607.10 128.07C607.10 126.39 607.80 123.91 607.90 121.70C608.00 119.49 607.88 117.01 607.70 114.80C607.52 112.59 607.15 110.56 606.80 108.43C606.45 106.31 605.86 104.28 605.60 102.06C605.34 99.85 605.25 97.42 605.25 95.17C605.25 92.91 605.34 90.74 605.60 88.53C605.86 86.32 606.35 83.98 606.80 81.90C607.25 79.82 608.05 77.03 608.30 76.06Z" fill="none" stroke="#4f1c98" stroke-width="1.3" stroke-linejoin="round"/>
<path d="M639.90 73.41C639.98 74.29 640.34 77.30 640.35 78.71C640.36 80.13 639.82 80.84 639.95 81.90C640.08 82.96 640.71 83.40 641.15 85.08C641.59 86.76 642.21 89.77 642.60 91.98C642.99 94.19 643.35 96.14 643.50 98.35C643.65 100.56 643.65 103.04 643.50 105.25C643.35 107.46 642.97 109.49 642.60 111.62C642.23 113.74 641.67 116.04 641.30 117.99C640.93 119.93 640.51 121.61 640.40 123.29C640.29 124.97 640.73 127.10 640.65 128.07C640.57 129.04 640.02 128.95 639.90 129.13L637.10 129.13C636.98 128.95 636.43 129.04 636.35 128.07C636.27 127.10 636.71 124.97 636.60 123.29C636.49 121.61 636.07 119.93 635.70 117.99C635.33 116.04 634.77 113.74 634.40 111.62C634.03 109.49 633.65 107.46 633.50 105.25C633.35 103.04 633.35 100.56 633.50 98.35C633.65 96.14 634.01 94.19 634.40 91.98C634.79 89.77 635.41 86.76 635.85 85.08C636.29 83.40 636.92 82.96 637.05 81.90C637.18 80.84 636.64 80.13 636.65 78.71C636.66 77.30 637.02 74.29 637.10 73.41Z" fill="none" stroke="#8e184a" stroke-width="1.3" stroke-linejoin="round"/>
<path d="M670.20 76.06C669.85 77.03 668.52 80.39 668.10 81.90C667.68 83.40 667.77 83.14 667.70 85.08C667.63 87.03 667.56 91.36 667.70 93.57C667.84 95.78 668.08 96.76 668.55 98.35C669.02 99.94 669.81 101.18 670.50 103.13C671.19 105.07 672.20 107.81 672.70 110.02C673.20 112.24 673.42 114.54 673.50 116.39C673.58 118.25 673.25 120.37 673.20 121.17L660.60 121.17C660.55 120.37 660.22 118.25 660.30 116.39C660.38 114.54 660.60 112.24 661.10 110.02C661.60 107.81 662.61 105.07 663.30 103.13C663.99 101.18 664.78 99.94 665.25 98.35C665.72 96.76 665.96 95.78 666.10 93.57C666.24 91.36 666.17 87.03 666.10 85.08C666.03 83.14 666.12 83.40 665.70 81.90C665.28 80.39 663.95 77.03 663.60 76.06Z" fill="none" stroke="#3572b2" stroke-width="1.3" stroke-linejoin="round"/>
<line x1="517.50" y1="65.45" x2="545.50" y2="65.45" stroke="#999" stroke-width="1.0"/>
<line x1="517.50" y1="76.06" x2="545.50" y2="70.75" stroke="#999" stroke-width="1.0"/>
<line x1="517.50" y1="78.71" x2="545.50" y2="65.45" stroke="#999" stroke-width="1.0"/>
<line x1="517.50" y1="81.37" x2="545.50" y2="78.71" stroke="#999" stroke-width="1.0"/>
<line x1="517.50" y1="86.67" x2="545.50" y2="70.75" stroke="#999" stroke-width="1.0"/>
<line x1="517.50" y1="89.33" x2="545.50" y2="84.02" stroke="#999" stroke-width="1.0"/>
<line x1="517.50" y1="91.98" x2="545.50" y2="97.29" stroke="#999" stroke-width="1.0"/>
<line x1="517.50" y1="102.59" x2="545.50" y2="99.94" stroke="#999" stroke-width="1.0"/>
<line x1="517.50" y1="110.56" x2="545.50" y2="97.29" stroke="#999" stroke-width="1.0"/>
<line x1="517.50" y1="113.21" x2="545.50" y2="102.59" stroke="#999" stroke-width="1.0"/>
<line x1="517.50" y1="118.52" x2="545.50" y2="110.56" stroke="#999" stroke-width="1.0"/>
<line x1="517.50" y1="129.13" x2="545.50" y2="113.21" stroke="#999" stroke-width="1.0"/>
<line x1="517.50" y1="145.05" x2="545.50" y2="126.48" stroke="#999" stroke-width="1.0"/>
<line x1="517.50" y1="160.97" x2="545.50" y2="160.97" stroke="#999" stroke-width="1.0"/>
<line x1="545.50" y1="65.45" x2="574.00" y2="76.06" stroke="#999" stroke-width="1.0"/>
<line x1="545.50" y1="70.75" x2="574.00" y2="86.67" stroke="#999" stroke-width="1.0"/>
<line x1="545.50" y1="78.71" x2="574.00" y2="76.06" stroke="#999" stroke-width="1.0"/>
<line x1="545.50" y1="99.94" x2="574.00" y2="86.67" stroke="#999" stroke-width="1.0"/>
<line x1="545.50" y1="113.21" x2="574.00" y2="129.13" stroke="#999" stroke-width="1.0"/>
<line x1="610.00" y1="76.06" x2="638.50" y2="73.41" stroke="#999" stroke-width="1.0"/>
<line x1="610.00" y1="84.02" x2="638.50" y2="81.37" stroke="#999" stroke-width="1.0"/>
<line x1="610.00" y1="89.33" x2="638.50" y2="91.98" stroke="#999" stroke-width="1.0"/>
<line x1="610.00" y1="91.98" x2="638.50" y2="94.63" stroke="#999" stroke-width="1.0"/>
<line x1="610.00" y1="97.29" x2="638.50" y2="97.29" stroke="#999" stroke-width="1.0"/>
<line x1="610.00" y1="99.94" x2="638.50" y2="107.90" stroke="#999" stroke-width="1.0"/>
<line x1="610.00" y1="102.59" x2="638.50" y2="110.56" stroke="#999" stroke-width="1.0"/>
<line x1="610.00" y1="107.90" x2="638.50" y2="129.13" stroke="#999" stroke-width="1.0"/>
<line x1="610.00" y1="121.17" x2="638.50" y2="123.82" stroke="#999" stroke-width="1.0"/>
<line x1="610.00" y1="129.13" x2="638.50" y2="99.94" stroke="#999" stroke-width="1.0"/>
<line x1="610.00" y1="131.78" x2="638.50" y2="113.21" stroke="#999" stroke-width="1.0"/>
<line x1="638.50" y1="73.41" x2="666.90" y2="76.06" stroke="#999" stroke-width="1.0"/>
<line x1="638.50" y1="81.37" x2="666.90" y2="107.90" stroke="#999" stroke-width="1.0"/>
<line x1="638.50" y1="91.98" x2="666.90" y2="118.52" stroke="#999" stroke-width="1.0"/>
<line x1="638.50" y1="107.90" x2="666.90" y2="110.56" stroke="#999" stroke-width="1.0"/>
<line x1="638.50" y1="110.56" x2="666.90" y2="121.17" stroke="#999" stroke-width="1.0"/>
<line x1="638.50" y1="123.82" x2="666.90" y2="107.90" stroke="#999" stroke-width="1.0"/>
<ellipse cx="517.50" cy="65.45" rx="1.5" ry="1.2" fill="#4f1c98"/>
<ellipse cx="517.50" cy="76.06" rx="1.5" ry="1.2" fill="#4f1c98"/>
<ellipse cx="517.50" cy="78.71" rx="1.5" ry="1.2" fill="#4f1c98"/>
<ellipse cx="517.50" cy="81.37" rx="1.5" ry="1.2" fill="#4f1c98"/>
<ellipse cx="517.50" cy="86.67" rx="1.5" ry="1.2" fill="#4f1c98"/>
<ellipse cx="517.50" cy="89.33" rx="1.5" ry="1.2" fill="#4f1c98"/>
<ellipse cx="517.50" cy="91.98" rx="1.5" ry="1.2" fill="#4f1c98"/>
<ellipse cx="517.50" cy="102.59" rx="1.5" ry="1.2" fill="#4f1c98"/>
<ellipse cx="517.50" cy="110.56" rx="1.5" ry="1.2" fill="#4f1c98"/>
<ellipse cx="517.50" cy="113.21" rx="1.5" ry="1.2" fill="#4f1c98"/>
<ellipse cx="517.50" cy="118.52" rx="1.5" ry="1.2" fill="#4f1c98"/>
<ellipse cx="517.50" cy="129.13" rx="1.5" ry="1.2" fill="#4f1c98"/>
<ellipse cx="517.50" cy="145.05" rx="1.5" ry="1.2" fill="#4f1c98"/>
<ellipse cx="517.50" cy="160.97" rx="1.5" ry="1.2" fill="#4f1c98"/>
<ellipse cx="545.50" cy="65.45" rx="1.5" ry="1.2" fill="#8e184a"/>
<ellipse cx="545.50" cy="70.75" rx="1.5" ry="1.2" fill="#8e184a"/>
<ellipse cx="545.50" cy="78.71" rx="1.5" ry="1.2" fill="#8e184a"/>
<ellipse cx="545.50" cy="84.02" rx="1.5" ry="1.2" fill="#8e184a"/>
<ellipse cx="545.50" cy="97.29" rx="1.5" ry="1.2" fill="#8e184a"/>
<ellipse cx="545.50" cy="99.94" rx="1.5" ry="1.2" fill="#8e184a"/>
<ellipse cx="545.50" cy="102.59" rx="1.5" ry="1.2" fill="#8e184a"/>
<ellipse cx="545.50" cy="110.56" rx="1.5" ry="1.2" fill="#8e184a"/>
<ellipse cx="545.50" cy="113.21" rx="1.5" ry="1.2" fill="#8e184a"/>
<ellipse cx="545.50" cy="118.52" rx="1.5" ry="1.2" fill="#8e184a"/>
<ellipse cx="545.50" cy="126.48" rx="1.5" ry="1.2" fill="#8e184a"/>
<ellipse cx="545.50" cy="160.97" rx="1.5" ry="1.2" fill="#8e184a"/>
<ellipse cx="574.00" cy="76.06" rx="1.5" ry="1.2" fill="#3572b2"/>
<ellipse cx="574.00" cy="76.06" rx="1.5" ry="1.2" fill="#3572b2"/>
<ellipse cx="574.00" cy="86.67" rx="1.5" ry="1.2" fill="#3572b2"/>
<ellipse cx="574.00" cy="129.13" rx="1.5" ry="1.2" fill="#3572b2"/>
<ellipse cx="610.00" cy="76.06" rx="1.5" ry="1.2" fill="#4f1c98"/>
<ellipse cx="610.00" cy="84.02" rx="1.5" ry="1.2" fill="#4f1c98"/>
<ellipse cx="610.00" cy="89.33" rx="1.5" ry="1.2" fill="#4f1c98"/>
<ellipse cx="610.00" cy="91.98" rx="1.5" ry="1.2" fill="#4f1c98"/>
<ellipse cx="610.00" cy="97.29" rx="1.5" ry="1.2" fill="#4f1c98"/>
<ellipse cx="610.00" cy="99.94" rx="1.5" ry="1.2" fill="#4f1c98"/>
<ellipse cx="610.00" cy="102.59" rx="1.5" ry="1.2" fill="#4f1c98"/>
<ellipse cx="610.00" cy="107.90" rx="1.5" ry="1.2" fill="#4f1c98"/>
<ellipse cx="610.00" cy="121.17" rx="1.5" ry="1.2" fill="#4f1c98"/>
<ellipse cx="610.00" cy="129.13" rx="1.5" ry="1.2" fill="#4f1c98"/>
<ellipse cx="610.00" cy="131.78" rx="1.5" ry="1.2" fill="#4f1c98"/>
<ellipse cx="638.50" cy="73.41" rx="1.5" ry="1.2" fill="#8e184a"/>
<ellipse cx="638.50" cy="81.37" rx="1.5" ry="1.2" fill="#8e184a"/>
<ellipse cx="638.50" cy="91.98" rx="1.5" ry="1.2" fill="#8e184a"/>
<ellipse cx="638.50" cy="94.63" rx="1.5" ry="1.2" fill="#8e184a"/>
<ellipse cx="638.50" cy="97.29" rx="1.5" ry="1.2" fill="#8e184a"/>
<ellipse cx="638.50" cy="99.94" rx="1.5" ry="1.2" fill="#8e184a"/>
<ellipse cx="638.50" cy="107.90" rx="1.5" ry="1.2" fill="#8e184a"/>
<ellipse cx="638.50" cy="110.56" rx="1.5" ry="1.2" fill="#8e184a"/>
<ellipse cx="638.50" cy="113.21" rx="1.5" ry="1.2" fill="#8e184a"/>
<ellipse cx="638.50" cy="123.82" rx="1.5" ry="1.2" fill="#8e184a"/>
<ellipse cx="638.50" cy="129.13" rx="1.5" ry="1.2" fill="#8e184a"/>
<ellipse cx="666.90" cy="76.06" rx="1.5" ry="1.2" fill="#3572b2"/>
<ellipse cx="666.90" cy="107.90" rx="1.5" ry="1.2" fill="#3572b2"/>
<ellipse cx="666.90" cy="110.56" rx="1.5" ry="1.2" fill="#3572b2"/>
<ellipse cx="666.90" cy="118.52" rx="1.5" ry="1.2" fill="#3572b2"/>
<ellipse cx="666.90" cy="121.17" rx="1.5" ry="1.2" fill="#3572b2"/>
<line x1="38.80" y1="204.00" x2="38.80" y2="388.00" stroke="#1e1e1e" stroke-width="1.3"/>
<line x1="38.20" y1="387.40" x2="222.70" y2="387.40" stroke="#2a2a2a" stroke-width="1.4"/>
<line x1="131.70" y1="387.40" x2="131.70" y2="383.40" stroke="#111" stroke-width="1.0"/>
<line x1="35.00" y1="385.70" x2="38.80" y2="385.70" stroke="#1e1e1e" stroke-width="1.2"/>
<text x="33.30" y="387.40" font-size="11" text-anchor="end" font-weight="bold" fill="#000">0</text>
<line x1="35.00" y1="320.40" x2="38.80" y2="320.40" stroke="#1e1e1e" stroke-width="1.2"/>
<text x="33.30" y="322.10" font-size="11" text-anchor="end" font-weight="bold" fill="#000">10</text>
<line x1="35.00" y1="254.80" x2="38.80" y2="254.80" stroke="#1e1e1e" stroke-width="1.2"/>
<text x="33.30" y="256.50" font-size="11" text-anchor="end" font-weight="bold" fill="#000">20</text>
<text x="130.80" y="214.00" font-size="12" text-anchor="middle" font-weight="bold" fill="#000">PHQ-9</text>
<text x="10.90" y="296.00" font-size="12" text-anchor="middle" font-weight="bold" fill="#000" transform="rotate(-90 10.9 296)" stroke="#000" stroke-width="0.25">Total scores</text>
<text x="55.50" y="400.70" font-size="12" text-anchor="middle" font-weight="bold" fill="#000">T0</text>
<text x="83.60" y="400.70" font-size="12" text-anchor="middle" font-weight="bold" fill="#000">T1</text>
<text x="112.30" y="400.70" font-size="12" text-anchor="middle" font-weight="bold" fill="#000">T2</text>
<text x="148.60" y="400.70" font-size="12" text-anchor="middle" font-weight="bold" fill="#000">T0</text>
<text x="176.20" y="400.70" font-size="12" text-anchor="middle" font-weight="bold" fill="#000">T1</text>
<text x="205.30" y="400.70" font-size="12" text-anchor="middle" font-weight="bold" fill="#000">T2</text>
<text x="84.00" y="421.80" font-size="12" text-anchor="middle" font-weight="bold" fill="#000">Active</text>
<text x="177.00" y="421.80" font-size="12" text-anchor="middle" font-weight="bold" fill="#000">Sham</text>
<path d="M55.40 257.30V253.70H112.30V257.30" fill="none" stroke="#151515" stroke-width="1.3"/>
<text x="83.85" y="252.00" font-size="11" text-anchor="middle" font-weight="bold" fill="#000">ns</text>
<path d="M55.40 273.10V269.50H83.80V273.10" fill="none" stroke="#151515" stroke-width="1.3"/>
<text x="69.60" y="267.80" font-size="11" text-anchor="middle" font-weight="bold" fill="#000">ns</text>
<path d="M148.80 257.30V253.70H205.30V257.30" fill="none" stroke="#151515" stroke-width="1.3"/>
<text x="177.05" y="252.00" font-size="11" text-anchor="middle" font-weight="bold" fill="#000">ns</text>
<path d="M148.80 273.10V269.50H177.00V273.10" fill="none" stroke="#151515" stroke-width="1.3"/>
<text x="162.90" y="267.80" font-size="11" text-anchor="middle" font-weight="bold" fill="#000">ns</text>
<path d="M57.50 320.25C57.48 321.89 57.48 326.80 57.40 330.07C57.32 333.34 57.11 336.61 57.00 339.88C56.89 343.16 56.66 346.43 56.75 349.70C56.84 352.97 57.16 356.25 57.55 359.52C57.94 362.79 58.69 366.45 59.10 369.34C59.51 372.23 59.85 374.63 60.00 376.86C60.15 379.10 60.12 381.28 60.00 382.75C59.88 384.23 59.42 385.21 59.30 385.70L51.50 385.70C51.38 385.21 50.92 384.23 50.80 382.75C50.68 381.28 50.65 379.10 50.80 376.86C50.95 374.63 51.29 372.23 51.70 369.34C52.11 366.45 52.86 362.79 53.25 359.52C53.64 356.25 53.96 352.97 54.05 349.70C54.14 346.43 53.91 343.16 53.80 339.88C53.69 336.61 53.48 333.34 53.40 330.07C53.32 326.80 53.32 321.89 53.30 320.25Z" fill="none" stroke="#4f1c98" stroke-width="1.3" stroke-linejoin="round"/>
<path d="M84.40 287.52C84.40 290.80 84.34 300.40 84.40 307.16C84.46 313.92 84.73 322.76 84.75 328.10C84.77 333.45 84.53 336.07 84.50 339.23C84.47 342.39 84.28 344.47 84.60 347.08C84.92 349.70 85.87 351.88 86.40 354.94C86.93 357.99 87.42 361.87 87.80 365.41C88.18 368.96 88.55 372.83 88.70 376.21C88.85 379.59 88.70 384.12 88.70 385.70L78.90 385.70C78.90 384.12 78.75 379.59 78.90 376.21C79.05 372.83 79.42 368.96 79.80 365.41C80.18 361.87 80.67 357.99 81.20 354.94C81.73 351.88 82.68 349.70 83.00 347.08C83.32 344.47 83.12 342.39 83.10 339.23C83.07 336.07 82.83 333.45 82.85 328.10C82.87 322.76 83.14 313.92 83.20 307.16C83.26 300.40 83.20 290.80 83.20 287.52Z" fill="none" stroke="#8e184a" stroke-width="1.3" stroke-linejoin="round"/>
<path d="M114.10 307.16C113.95 308.03 113.39 310.00 113.20 312.40C113.01 314.80 112.92 316.21 112.95 321.56C112.98 326.90 113.09 338.90 113.40 344.47C113.71 350.03 114.17 351.34 114.80 354.94C115.43 358.54 116.53 362.36 117.20 366.06C117.87 369.77 118.43 373.92 118.80 377.19C119.17 380.46 119.30 384.28 119.40 385.70L105.20 385.70C105.30 384.28 105.43 380.46 105.80 377.19C106.17 373.92 106.73 369.77 107.40 366.06C108.07 362.36 109.17 358.54 109.80 354.94C110.43 351.34 110.89 350.03 111.20 344.47C111.51 338.90 111.62 326.90 111.65 321.56C111.68 316.21 111.59 314.80 111.40 312.40C111.21 310.00 110.65 308.03 110.50 307.16Z" fill="none" stroke="#3572b2" stroke-width="1.3" stroke-linejoin="round"/>
<path d="M149.70 300.62C149.65 302.91 149.45 308.03 149.40 314.36C149.35 320.69 149.25 332.03 149.40 338.58C149.55 345.12 149.93 349.48 150.30 353.63C150.67 357.77 151.17 360.28 151.60 363.45C152.03 366.61 152.57 369.45 152.90 372.61C153.23 375.77 153.48 380.25 153.60 382.43C153.72 384.61 153.60 385.15 153.60 385.70L144.00 385.70C144.00 385.15 143.88 384.61 144.00 382.43C144.12 380.25 144.37 375.77 144.70 372.61C145.03 369.45 145.57 366.61 146.00 363.45C146.43 360.28 146.93 357.77 147.30 353.63C147.67 349.48 148.05 345.12 148.20 338.58C148.35 332.03 148.25 320.69 148.20 314.36C148.15 308.03 147.95 302.91 147.90 300.62Z" fill="none" stroke="#4f1c98" stroke-width="1.3" stroke-linejoin="round"/>
<path d="M177.50 294.07C177.48 296.91 177.40 304.00 177.40 311.09C177.40 318.18 177.37 331.16 177.50 336.61C177.63 342.07 177.87 341.30 178.20 343.81C178.53 346.32 179.07 348.72 179.50 351.67C179.93 354.61 180.45 358.10 180.80 361.48C181.15 364.87 181.45 368.57 181.60 371.96C181.75 375.34 181.68 379.48 181.70 381.77C181.72 384.06 181.70 385.05 181.70 385.70L172.30 385.70C172.30 385.05 172.28 384.06 172.30 381.77C172.32 379.48 172.25 375.34 172.40 371.96C172.55 368.57 172.85 364.87 173.20 361.48C173.55 358.10 174.07 354.61 174.50 351.67C174.93 348.72 175.47 346.32 175.80 343.81C176.13 341.30 176.37 342.07 176.50 336.61C176.63 331.16 176.60 318.18 176.60 311.09C176.60 304.00 176.52 296.91 176.50 294.07Z" fill="none" stroke="#8e184a" stroke-width="1.3" stroke-linejoin="round"/>
<path d="M207.90 320.25C207.88 322.43 207.82 327.89 207.80 333.34C207.78 338.79 207.80 346.43 207.80 352.97C207.80 359.52 207.80 367.16 207.80 372.61C207.80 378.06 207.80 383.52 207.80 385.70L202.80 385.70C202.80 383.52 202.80 378.06 202.80 372.61C202.80 367.16 202.80 359.52 202.80 352.97C202.80 346.43 202.82 338.79 202.80 333.34C202.78 327.89 202.72 322.43 202.70 320.25Z" fill="none" stroke="#3572b2" stroke-width="1.3" stroke-linejoin="round"/>
<line x1="55.40" y1="320.25" x2="83.80" y2="287.52" stroke="#999" stroke-width="1.0"/>
<line x1="55.40" y1="320.25" x2="83.80" y2="326.79" stroke="#999" stroke-width="1.0"/>
<line x1="55.40" y1="328.76" x2="83.80" y2="300.62" stroke="#999" stroke-width="1.0"/>
<line x1="55.40" y1="333.34" x2="83.80" y2="333.34" stroke="#999" stroke-width="1.0"/>
<line x1="55.40" y1="333.34" x2="83.80" y2="359.52" stroke="#999" stroke-width="1.0"/>
<line x1="55.40" y1="339.88" x2="83.80" y2="372.61" stroke="#999" stroke-width="1.0"/>
<line x1="55.40" y1="372.61" x2="83.80" y2="372.61" stroke="#999" stroke-width="1.0"/>
<line x1="55.40" y1="379.15" x2="83.80" y2="366.06" stroke="#999" stroke-width="1.0"/>
<line x1="55.40" y1="385.70" x2="83.80" y2="385.70" stroke="#999" stroke-width="1.0"/>
<line x1="83.80" y1="326.79" x2="112.30" y2="307.16" stroke="#999" stroke-width="1.0"/>
<line x1="83.80" y1="359.52" x2="112.30" y2="385.70" stroke="#999" stroke-width="1.0"/>
<line x1="83.80" y1="372.61" x2="112.30" y2="372.61" stroke="#999" stroke-width="1.0"/>
<line x1="83.80" y1="385.70" x2="112.30" y2="366.06" stroke="#999" stroke-width="1.0"/>
<line x1="83.80" y1="366.06" x2="112.30" y2="385.70" stroke="#999" stroke-width="1.0"/>
<line x1="148.80" y1="300.62" x2="177.00" y2="352.97" stroke="#999" stroke-width="1.0"/>
<line x1="148.80" y1="313.70" x2="177.00" y2="359.52" stroke="#999" stroke-width="1.0"/>
<line x1="148.80" y1="326.79" x2="177.00" y2="372.61" stroke="#999" stroke-width="1.0"/>
<line x1="148.80" y1="339.88" x2="177.00" y2="294.07" stroke="#999" stroke-width="1.0"/>
<line x1="148.80" y1="366.06" x2="177.00" y2="346.43" stroke="#999" stroke-width="1.0"/>
<line x1="148.80" y1="372.61" x2="177.00" y2="366.06" stroke="#999" stroke-width="1.0"/>
<line x1="148.80" y1="372.61" x2="177.00" y2="379.15" stroke="#999" stroke-width="1.0"/>
<line x1="148.80" y1="379.15" x2="177.00" y2="372.61" stroke="#999" stroke-width="1.0"/>
<line x1="148.80" y1="379.15" x2="177.00" y2="385.70" stroke="#999" stroke-width="1.0"/>
<line x1="148.80" y1="385.70" x2="177.00" y2="385.70" stroke="#999" stroke-width="1.0"/>
<line x1="148.80" y1="385.70" x2="177.00" y2="379.15" stroke="#999" stroke-width="1.0"/>
<line x1="177.00" y1="294.07" x2="205.30" y2="326.79" stroke="#999" stroke-width="1.0"/>
<line x1="177.00" y1="346.43" x2="205.30" y2="320.25" stroke="#999" stroke-width="1.0"/>
<line x1="177.00" y1="352.97" x2="205.30" y2="339.88" stroke="#999" stroke-width="1.0"/>
<line x1="177.00" y1="359.52" x2="205.30" y2="379.15" stroke="#999" stroke-width="1.0"/>
<line x1="177.00" y1="366.06" x2="205.30" y2="385.70" stroke="#999" stroke-width="1.0"/>
<ellipse cx="55.40" cy="320.25" rx="1.5" ry="1.2" fill="#4f1c98"/>
<ellipse cx="55.40" cy="333.34" rx="1.5" ry="1.2" fill="#4f1c98"/>
<ellipse cx="55.40" cy="339.88" rx="1.5" ry="1.2" fill="#4f1c98"/>
<ellipse cx="55.40" cy="372.61" rx="1.5" ry="1.2" fill="#4f1c98"/>
<ellipse cx="55.40" cy="379.15" rx="1.5" ry="1.2" fill="#4f1c98"/>
<ellipse cx="55.40" cy="385.70" rx="1.5" ry="1.2" fill="#4f1c98"/>
<ellipse cx="83.80" cy="287.52" rx="1.5" ry="1.2" fill="#8e184a"/>
<ellipse cx="83.80" cy="300.62" rx="1.5" ry="1.2" fill="#8e184a"/>
<ellipse cx="83.80" cy="326.79" rx="1.5" ry="1.2" fill="#8e184a"/>
<ellipse cx="83.80" cy="333.34" rx="1.5" ry="1.2" fill="#8e184a"/>
<ellipse cx="83.80" cy="359.52" rx="1.5" ry="1.2" fill="#8e184a"/>
<ellipse cx="83.80" cy="366.06" rx="1.5" ry="1.2" fill="#8e184a"/>
<ellipse cx="83.80" cy="372.61" rx="1.5" ry="1.2" fill="#8e184a"/>
<ellipse cx="83.80" cy="385.70" rx="1.5" ry="1.2" fill="#8e184a"/>
<ellipse cx="112.30" cy="307.16" rx="1.5" ry="1.2" fill="#3572b2"/>
<ellipse cx="112.30" cy="366.06" rx="1.5" ry="1.2" fill="#3572b2"/>
<ellipse cx="112.30" cy="372.61" rx="1.5" ry="1.2" fill="#3572b2"/>
<ellipse cx="112.30" cy="385.70" rx="1.5" ry="1.2" fill="#3572b2"/>
<ellipse cx="148.80" cy="300.62" rx="1.5" ry="1.2" fill="#4f1c98"/>
<ellipse cx="148.80" cy="313.70" rx="1.5" ry="1.2" fill="#4f1c98"/>
<ellipse cx="148.80" cy="326.79" rx="1.5" ry="1.2" fill="#4f1c98"/>
<ellipse cx="148.80" cy="339.88" rx="1.5" ry="1.2" fill="#4f1c98"/>
<ellipse cx="148.80" cy="366.06" rx="1.5" ry="1.2" fill="#4f1c98"/>
<ellipse cx="148.80" cy="372.61" rx="1.5" ry="1.2" fill="#4f1c98"/>
<ellipse cx="148.80" cy="379.15" rx="1.5" ry="1.2" fill="#4f1c98"/>
<ellipse cx="148.80" cy="385.70" rx="1.5" ry="1.2" fill="#4f1c98"/>
<ellipse cx="177.00" cy="294.07" rx="1.5" ry="1.2" fill="#8e184a"/>
<ellipse cx="177.00" cy="346.43" rx="1.5" ry="1.2" fill="#8e184a"/>
<ellipse cx="177.00" cy="352.97" rx="1.5" ry="1.2" fill="#8e184a"/>
<ellipse cx="177.00" cy="359.52" rx="1.5" ry="1.2" fill="#8e184a"/>
<ellipse cx="177.00" cy="366.06" rx="1.5" ry="1.2" fill="#8e184a"/>
<ellipse cx="177.00" cy="372.61" rx="1.5" ry="1.2" fill="#8e184a"/>
<ellipse cx="177.00" cy="385.70" rx="1.5" ry="1.2" fill="#8e184a"/>
<ellipse cx="205.30" cy="320.25" rx="1.5" ry="1.2" fill="#3572b2"/>
<ellipse cx="205.30" cy="326.79" rx="1.5" ry="1.2" fill="#3572b2"/>
<ellipse cx="205.30" cy="339.88" rx="1.5" ry="1.2" fill="#3572b2"/>
<ellipse cx="205.30" cy="379.15" rx="1.5" ry="1.2" fill="#3572b2"/>
<ellipse cx="205.30" cy="385.70" rx="1.5" ry="1.2" fill="#3572b2"/>
<line x1="274.20" y1="204.20" x2="274.20" y2="388.00" stroke="#1e1e1e" stroke-width="1.3"/>
<line x1="273.60" y1="387.40" x2="458.10" y2="387.40" stroke="#2a2a2a" stroke-width="1.4"/>
<line x1="367.10" y1="387.40" x2="367.10" y2="383.40" stroke="#111" stroke-width="1.0"/>
<line x1="270.40" y1="385.50" x2="274.20" y2="385.50" stroke="#1e1e1e" stroke-width="1.2"/>
<text x="268.70" y="387.20" font-size="11" text-anchor="end" font-weight="bold" fill="#000">0</text>
<line x1="270.40" y1="351.40" x2="274.20" y2="351.40" stroke="#1e1e1e" stroke-width="1.2"/>
<text x="268.70" y="353.10" font-size="11" text-anchor="end" font-weight="bold" fill="#000">10</text>
<line x1="270.40" y1="317.20" x2="274.20" y2="317.20" stroke="#1e1e1e" stroke-width="1.2"/>
<text x="268.70" y="318.90" font-size="11" text-anchor="end" font-weight="bold" fill="#000">20</text>
<line x1="270.40" y1="283.20" x2="274.20" y2="283.20" stroke="#1e1e1e" stroke-width="1.2"/>
<text x="268.70" y="284.90" font-size="11" text-anchor="end" font-weight="bold" fill="#000">30</text>
<line x1="270.40" y1="249.20" x2="274.20" y2="249.20" stroke="#1e1e1e" stroke-width="1.2"/>
<text x="268.70" y="250.90" font-size="11" text-anchor="end" font-weight="bold" fill="#000">40</text>
<line x1="270.40" y1="215.10" x2="274.20" y2="215.10" stroke="#1e1e1e" stroke-width="1.2"/>
<text x="268.70" y="216.80" font-size="11" text-anchor="end" font-weight="bold" fill="#000">50</text>
<text x="366.20" y="214.00" font-size="12" text-anchor="middle" font-weight="bold" fill="#000">ADL</text>
<text x="290.90" y="400.70" font-size="12" text-anchor="middle" font-weight="bold" fill="#000">T0</text>
<text x="319.00" y="400.70" font-size="12" text-anchor="middle" font-weight="bold" fill="#000">T1</text>
<text x="347.70" y="400.70" font-size="12" text-anchor="middle" font-weight="bold" fill="#000">T2</text>
<text x="384.00" y="400.70" font-size="12" text-anchor="middle" font-weight="bold" fill="#000">T0</text>
<text x="411.60" y="400.70" font-size="12" text-anchor="middle" font-weight="bold" fill="#000">T1</text>
<text x="440.70" y="400.70" font-size="12" text-anchor="middle" font-weight="bold" fill="#000">T2</text>
<text x="319.40" y="421.80" font-size="12" text-anchor="middle" font-weight="bold" fill="#000">Active</text>
<text x="412.40" y="421.80" font-size="12" text-anchor="middle" font-weight="bold" fill="#000">Sham</text>
<path d="M291.30 238.90V235.30H348.20V238.90" fill="none" stroke="#151515" stroke-width="1.3"/>
<text x="319.75" y="233.60" font-size="11" text-anchor="middle" font-weight="bold" fill="#000">ns</text>
<path d="M291.30 251.80V248.20H319.70V251.80" fill="none" stroke="#151515" stroke-width="1.3"/>
<text x="305.50" y="246.50" font-size="11" text-anchor="middle" font-weight="bold" fill="#000">ns</text>
<path d="M384.50 238.90V235.30H441.10V238.90" fill="none" stroke="#151515" stroke-width="1.3"/>
<text x="412.80" y="233.60" font-size="11" text-anchor="middle" font-weight="bold" fill="#000">ns</text>
<path d="M384.50 251.80V248.20H412.60V251.80" fill="none" stroke="#151515" stroke-width="1.3"/>
<text x="398.55" y="246.50" font-size="11" text-anchor="middle" font-weight="bold" fill="#000">ns</text>
<path d="M292.50 266.05C292.53 266.62 292.77 268.32 292.70 269.46C292.63 270.60 292.13 271.90 292.10 272.87C292.07 273.84 292.53 274.29 292.50 275.26C292.47 276.22 292.00 276.79 291.90 278.67C291.80 280.54 291.84 284.58 291.90 286.51C291.96 288.44 292.03 289.07 292.25 290.26C292.47 291.45 292.82 292.42 293.20 293.67C293.57 294.92 294.18 296.51 294.50 297.76C294.82 299.01 294.98 299.92 295.15 301.17C295.32 302.42 295.44 303.96 295.50 305.26C295.56 306.57 295.55 307.77 295.50 309.02C295.45 310.27 295.30 311.63 295.20 312.77C295.10 313.90 295.08 315.10 294.90 315.84C294.72 316.57 294.23 316.97 294.10 317.20L288.50 317.20C288.37 316.97 287.88 316.57 287.70 315.84C287.52 315.10 287.50 313.90 287.40 312.77C287.30 311.63 287.15 310.27 287.10 309.02C287.05 307.77 287.04 306.57 287.10 305.26C287.16 303.96 287.28 302.42 287.45 301.17C287.62 299.92 287.78 299.01 288.10 297.76C288.43 296.51 289.03 294.92 289.40 293.67C289.78 292.42 290.13 291.45 290.35 290.26C290.57 289.07 290.64 288.44 290.70 286.51C290.76 284.58 290.80 280.54 290.70 278.67C290.60 276.79 290.13 276.22 290.10 275.26C290.07 274.29 290.53 273.84 290.50 272.87C290.47 271.90 289.97 270.60 289.90 269.46C289.83 268.32 290.07 266.62 290.10 266.05Z" fill="none" stroke="#4f1c98" stroke-width="1.3" stroke-linejoin="round"/>
<path d="M320.60 266.05C320.57 267.75 320.45 273.15 320.40 276.28C320.35 279.41 320.25 282.82 320.30 284.80C320.35 286.79 320.62 287.31 320.70 288.21C320.78 289.12 320.72 289.35 320.80 290.26C320.88 291.17 321.00 292.42 321.20 293.67C321.40 294.92 321.75 296.51 322.00 297.76C322.25 299.01 322.52 299.92 322.70 301.17C322.88 302.42 322.93 303.96 323.10 305.26C323.27 306.57 323.57 307.77 323.70 309.02C323.83 310.27 323.97 311.63 323.90 312.77C323.83 313.90 323.58 315.10 323.30 315.84C323.02 316.57 322.38 316.97 322.20 317.20L317.20 317.20C317.02 316.97 316.38 316.57 316.10 315.84C315.82 315.10 315.57 313.90 315.50 312.77C315.43 311.63 315.57 310.27 315.70 309.02C315.83 307.77 316.13 306.57 316.30 305.26C316.47 303.96 316.52 302.42 316.70 301.17C316.88 299.92 317.15 299.01 317.40 297.76C317.65 296.51 318.00 294.92 318.20 293.67C318.40 292.42 318.52 291.17 318.60 290.26C318.68 289.35 318.62 289.12 318.70 288.21C318.78 287.31 319.05 286.79 319.10 284.80C319.15 282.82 319.05 279.41 319.00 276.28C318.95 273.15 318.83 267.75 318.80 266.05Z" fill="none" stroke="#8e184a" stroke-width="1.3" stroke-linejoin="round"/>
<path d="M351.05 271.16C350.81 271.68 349.93 273.27 349.60 274.23C349.27 275.20 349.14 274.23 349.05 276.96C348.96 279.69 348.96 287.19 349.05 290.60C349.14 294.01 349.16 295.66 349.60 297.42C350.04 299.18 351.05 299.98 351.70 301.17C352.35 302.37 352.90 303.28 353.50 304.58C354.10 305.89 355.27 307.60 355.30 309.02C355.33 310.44 354.30 311.91 353.70 313.11C353.10 314.30 352.20 315.49 351.70 316.18C351.20 316.86 350.87 317.03 350.70 317.20L345.70 317.20C345.53 317.03 345.20 316.86 344.70 316.18C344.20 315.49 343.30 314.30 342.70 313.11C342.10 311.91 341.07 310.44 341.10 309.02C341.13 307.60 342.30 305.89 342.90 304.58C343.50 303.28 344.05 302.37 344.70 301.17C345.35 299.98 346.36 299.18 346.80 297.42C347.24 295.66 347.26 294.01 347.35 290.60C347.44 287.19 347.44 279.69 347.35 276.96C347.26 274.23 347.13 275.20 346.80 274.23C346.47 273.27 345.59 271.68 345.35 271.16Z" fill="none" stroke="#3572b2" stroke-width="1.3" stroke-linejoin="round"/>
<path d="M385.60 259.23C385.60 260.37 385.52 263.83 385.60 266.05C385.68 268.27 386.06 270.65 386.10 272.53C386.14 274.40 385.96 275.71 385.85 277.30C385.74 278.89 385.56 279.69 385.45 282.08C385.34 284.46 385.21 289.29 385.20 291.62C385.19 293.96 385.22 294.75 385.40 296.06C385.58 297.37 385.85 298.10 386.30 299.47C386.75 300.83 387.57 302.82 388.10 304.24C388.63 305.66 389.10 306.69 389.50 307.99C389.90 309.30 390.32 310.72 390.50 312.08C390.68 313.45 390.85 315.32 390.60 316.18C390.35 317.03 389.27 317.03 389.00 317.20L380.00 317.20C379.73 317.03 378.65 317.03 378.40 316.18C378.15 315.32 378.32 313.45 378.50 312.08C378.68 310.72 379.10 309.30 379.50 307.99C379.90 306.69 380.37 305.66 380.90 304.24C381.43 302.82 382.25 300.83 382.70 299.47C383.15 298.10 383.42 297.37 383.60 296.06C383.78 294.75 383.81 293.96 383.80 291.62C383.79 289.29 383.66 284.46 383.55 282.08C383.44 279.69 383.26 278.89 383.15 277.30C383.04 275.71 382.86 274.40 382.90 272.53C382.94 270.65 383.32 268.27 383.40 266.05C383.48 263.83 383.40 260.37 383.40 259.23Z" fill="none" stroke="#4f1c98" stroke-width="1.3" stroke-linejoin="round"/>
<path d="M413.80 272.87C413.80 273.67 413.78 276.11 413.80 277.64C413.82 279.18 413.93 280.66 413.90 282.08C413.87 283.50 413.70 284.75 413.60 286.17C413.50 287.59 413.30 289.41 413.30 290.60C413.30 291.80 413.38 292.42 413.60 293.33C413.82 294.24 414.20 294.92 414.60 296.06C415.00 297.19 415.57 298.79 416.00 300.15C416.43 301.51 416.77 302.93 417.20 304.24C417.63 305.55 418.20 306.69 418.60 307.99C419.00 309.30 419.50 310.72 419.60 312.08C419.70 313.45 419.53 315.32 419.20 316.18C418.87 317.03 417.87 317.03 417.60 317.20L407.60 317.20C407.33 317.03 406.33 317.03 406.00 316.18C405.67 315.32 405.50 313.45 405.60 312.08C405.70 310.72 406.20 309.30 406.60 307.99C407.00 306.69 407.57 305.55 408.00 304.24C408.43 302.93 408.77 301.51 409.20 300.15C409.63 298.79 410.20 297.19 410.60 296.06C411.00 294.92 411.38 294.24 411.60 293.33C411.82 292.42 411.90 291.80 411.90 290.60C411.90 289.41 411.70 287.59 411.60 286.17C411.50 284.75 411.33 283.50 411.30 282.08C411.27 280.66 411.38 279.18 411.40 277.64C411.42 276.11 411.40 273.67 411.40 272.87Z" fill="none" stroke="#8e184a" stroke-width="1.3" stroke-linejoin="round"/>
<path d="M442.65 266.05C442.61 267.75 442.44 272.30 442.40 276.28C442.36 280.26 442.38 285.37 442.40 289.92C442.42 294.47 442.40 299.58 442.50 303.56C442.60 307.54 442.97 311.52 443.00 313.79C443.03 316.06 442.75 316.63 442.70 317.20L439.50 317.20C439.45 316.63 439.17 316.06 439.20 313.79C439.23 311.52 439.60 307.54 439.70 303.56C439.80 299.58 439.78 294.47 439.80 289.92C439.82 285.37 439.84 280.26 439.80 276.28C439.76 272.30 439.59 267.75 439.55 266.05Z" fill="none" stroke="#3572b2" stroke-width="1.3" stroke-linejoin="round"/>
<line x1="291.30" y1="266.05" x2="319.70" y2="272.87" stroke="#999" stroke-width="1.0"/>
<line x1="291.30" y1="266.05" x2="319.70" y2="288.21" stroke="#999" stroke-width="1.0"/>
<line x1="291.30" y1="272.87" x2="319.70" y2="266.05" stroke="#999" stroke-width="1.0"/>
<line x1="291.30" y1="276.28" x2="319.70" y2="272.87" stroke="#999" stroke-width="1.0"/>
<line x1="291.30" y1="290.94" x2="319.70" y2="312.08" stroke="#999" stroke-width="1.0"/>
<line x1="291.30" y1="302.54" x2="319.70" y2="288.21" stroke="#999" stroke-width="1.0"/>
<line x1="291.30" y1="300.15" x2="319.70" y2="300.15" stroke="#999" stroke-width="1.0"/>
<line x1="291.30" y1="303.56" x2="319.70" y2="312.08" stroke="#999" stroke-width="1.0"/>
<line x1="291.30" y1="306.97" x2="319.70" y2="306.97" stroke="#999" stroke-width="1.0"/>
<line x1="291.30" y1="310.38" x2="319.70" y2="310.38" stroke="#999" stroke-width="1.0"/>
<line x1="291.30" y1="313.79" x2="319.70" y2="313.79" stroke="#999" stroke-width="1.0"/>
<line x1="291.30" y1="317.20" x2="319.70" y2="317.20" stroke="#999" stroke-width="1.0"/>
<line x1="291.30" y1="306.97" x2="319.70" y2="317.20" stroke="#999" stroke-width="1.0"/>
<line x1="291.30" y1="313.79" x2="319.70" y2="306.97" stroke="#999" stroke-width="1.0"/>
<line x1="319.70" y1="288.21" x2="348.20" y2="271.16" stroke="#999" stroke-width="1.0"/>
<line x1="319.70" y1="272.87" x2="348.20" y2="303.56" stroke="#999" stroke-width="1.0"/>
<line x1="319.70" y1="288.21" x2="348.20" y2="306.97" stroke="#999" stroke-width="1.0"/>
<line x1="319.70" y1="310.38" x2="348.20" y2="310.38" stroke="#999" stroke-width="1.0"/>
<line x1="319.70" y1="317.20" x2="348.20" y2="317.20" stroke="#999" stroke-width="1.0"/>
<line x1="384.50" y1="259.23" x2="412.60" y2="272.87" stroke="#999" stroke-width="1.0"/>
<line x1="384.50" y1="269.46" x2="412.60" y2="288.21" stroke="#999" stroke-width="1.0"/>
<line x1="384.50" y1="276.28" x2="412.60" y2="279.69" stroke="#999" stroke-width="1.0"/>
<line x1="384.50" y1="303.56" x2="412.60" y2="313.79" stroke="#999" stroke-width="1.0"/>
<line x1="384.50" y1="306.97" x2="412.60" y2="303.56" stroke="#999" stroke-width="1.0"/>
<line x1="384.50" y1="310.38" x2="412.60" y2="317.20" stroke="#999" stroke-width="1.0"/>
<line x1="384.50" y1="313.79" x2="412.60" y2="306.97" stroke="#999" stroke-width="1.0"/>
<line x1="384.50" y1="317.20" x2="412.60" y2="310.38" stroke="#999" stroke-width="1.0"/>
<line x1="384.50" y1="303.56" x2="412.60" y2="317.20" stroke="#999" stroke-width="1.0"/>
<line x1="384.50" y1="317.20" x2="412.60" y2="313.79" stroke="#999" stroke-width="1.0"/>
<line x1="412.60" y1="272.87" x2="441.10" y2="272.87" stroke="#999" stroke-width="1.0"/>
<line x1="412.60" y1="288.21" x2="441.10" y2="313.79" stroke="#999" stroke-width="1.0"/>
<line x1="412.60" y1="310.38" x2="441.10" y2="266.05" stroke="#999" stroke-width="1.0"/>
<line x1="412.60" y1="317.20" x2="441.10" y2="317.20" stroke="#999" stroke-width="1.0"/>
<line x1="412.60" y1="303.56" x2="441.10" y2="317.20" stroke="#999" stroke-width="1.0"/>
<ellipse cx="291.30" cy="266.05" rx="1.5" ry="1.2" fill="#4f1c98"/>
<ellipse cx="291.30" cy="276.28" rx="1.5" ry="1.2" fill="#4f1c98"/>
<ellipse cx="291.30" cy="279.69" rx="1.5" ry="1.2" fill="#4f1c98"/>
<ellipse cx="291.30" cy="300.15" rx="1.5" ry="1.2" fill="#4f1c98"/>
<ellipse cx="291.30" cy="303.56" rx="1.5" ry="1.2" fill="#4f1c98"/>
<ellipse cx="291.30" cy="306.97" rx="1.5" ry="1.2" fill="#4f1c98"/>
<ellipse cx="291.30" cy="310.38" rx="1.5" ry="1.2" fill="#4f1c98"/>
<ellipse cx="291.30" cy="313.79" rx="1.5" ry="1.2" fill="#4f1c98"/>
<ellipse cx="291.30" cy="317.20" rx="1.5" ry="1.2" fill="#4f1c98"/>
<ellipse cx="319.70" cy="266.05" rx="1.5" ry="1.2" fill="#8e184a"/>
<ellipse cx="319.70" cy="269.46" rx="1.5" ry="1.2" fill="#8e184a"/>
<ellipse cx="319.70" cy="272.87" rx="1.5" ry="1.2" fill="#8e184a"/>
<ellipse cx="319.70" cy="288.21" rx="1.5" ry="1.2" fill="#8e184a"/>
<ellipse cx="319.70" cy="300.15" rx="1.5" ry="1.2" fill="#8e184a"/>
<ellipse cx="319.70" cy="306.97" rx="1.5" ry="1.2" fill="#8e184a"/>
<ellipse cx="319.70" cy="310.38" rx="1.5" ry="1.2" fill="#8e184a"/>
<ellipse cx="319.70" cy="313.79" rx="1.5" ry="1.2" fill="#8e184a"/>
<ellipse cx="319.70" cy="317.20" rx="1.5" ry="1.2" fill="#8e184a"/>
<ellipse cx="348.20" cy="271.16" rx="1.5" ry="1.2" fill="#3572b2"/>
<ellipse cx="348.20" cy="303.56" rx="1.5" ry="1.2" fill="#3572b2"/>
<ellipse cx="348.20" cy="306.97" rx="1.5" ry="1.2" fill="#3572b2"/>
<ellipse cx="348.20" cy="310.38" rx="1.5" ry="1.2" fill="#3572b2"/>
<ellipse cx="348.20" cy="317.20" rx="1.5" ry="1.2" fill="#3572b2"/>
<ellipse cx="384.50" cy="259.23" rx="1.5" ry="1.2" fill="#4f1c98"/>
<ellipse cx="384.50" cy="269.46" rx="1.5" ry="1.2" fill="#4f1c98"/>
<ellipse cx="384.50" cy="276.28" rx="1.5" ry="1.2" fill="#4f1c98"/>
<ellipse cx="384.50" cy="279.69" rx="1.5" ry="1.2" fill="#4f1c98"/>
<ellipse cx="384.50" cy="300.15" rx="1.5" ry="1.2" fill="#4f1c98"/>
<ellipse cx="384.50" cy="306.97" rx="1.5" ry="1.2" fill="#4f1c98"/>
<ellipse cx="384.50" cy="310.38" rx="1.5" ry="1.2" fill="#4f1c98"/>
<ellipse cx="384.50" cy="313.79" rx="1.5" ry="1.2" fill="#4f1c98"/>
<ellipse cx="384.50" cy="317.20" rx="1.5" ry="1.2" fill="#4f1c98"/>
<ellipse cx="412.60" cy="272.87" rx="1.5" ry="1.2" fill="#8e184a"/>
<ellipse cx="412.60" cy="279.69" rx="1.5" ry="1.2" fill="#8e184a"/>
<ellipse cx="412.60" cy="288.21" rx="1.5" ry="1.2" fill="#8e184a"/>
<ellipse cx="412.60" cy="303.56" rx="1.5" ry="1.2" fill="#8e184a"/>
<ellipse cx="412.60" cy="306.97" rx="1.5" ry="1.2" fill="#8e184a"/>
<ellipse cx="412.60" cy="310.38" rx="1.5" ry="1.2" fill="#8e184a"/>
<ellipse cx="412.60" cy="313.79" rx="1.5" ry="1.2" fill="#8e184a"/>
<ellipse cx="412.60" cy="317.20" rx="1.5" ry="1.2" fill="#8e184a"/>
<ellipse cx="441.10" cy="266.05" rx="1.5" ry="1.2" fill="#3572b2"/>
<ellipse cx="441.10" cy="272.87" rx="1.5" ry="1.2" fill="#3572b2"/>
<ellipse cx="441.10" cy="313.79" rx="1.5" ry="1.2" fill="#3572b2"/>
<ellipse cx="441.10" cy="317.20" rx="1.5" ry="1.2" fill="#3572b2"/>
<line x1="499.90" y1="204.70" x2="499.90" y2="388.00" stroke="#505050" stroke-width="1.3"/>
<line x1="499.30" y1="387.40" x2="681.60" y2="387.40" stroke="#2a2a2a" stroke-width="1.4"/>
<line x1="592.80" y1="387.40" x2="592.80" y2="383.40" stroke="#111" stroke-width="1.0"/>
<line x1="496.10" y1="385.60" x2="499.90" y2="385.60" stroke="#505050" stroke-width="1.2"/>
<text x="494.40" y="387.30" font-size="11" text-anchor="end" font-weight="bold" fill="#000">0</text>
<line x1="496.10" y1="321.20" x2="499.90" y2="321.20" stroke="#505050" stroke-width="1.2"/>
<text x="494.40" y="322.90" font-size="11" text-anchor="end" font-weight="bold" fill="#000">50</text>
<line x1="496.10" y1="256.50" x2="499.90" y2="256.50" stroke="#505050" stroke-width="1.2"/>
<text x="494.40" y="258.20" font-size="11" text-anchor="end" font-weight="bold" fill="#000">100</text>
<text x="591.90" y="214.00" font-size="12" text-anchor="middle" font-weight="bold" fill="#000">CBI</text>
<text x="516.60" y="400.70" font-size="12" text-anchor="middle" font-weight="bold" fill="#000">T0</text>
<text x="544.70" y="400.70" font-size="12" text-anchor="middle" font-weight="bold" fill="#000">T1</text>
<text x="573.40" y="400.70" font-size="12" text-anchor="middle" font-weight="bold" fill="#000">T2</text>
<text x="609.70" y="400.70" font-size="12" text-anchor="middle" font-weight="bold" fill="#000">T0</text>
<text x="637.30" y="400.70" font-size="12" text-anchor="middle" font-weight="bold" fill="#000">T1</text>
<text x="666.40" y="400.70" font-size="12" text-anchor="middle" font-weight="bold" fill="#000">T2</text>
<text x="545.10" y="421.80" font-size="12" text-anchor="middle" font-weight="bold" fill="#000">Active</text>
<text x="638.10" y="421.80" font-size="12" text-anchor="middle" font-weight="bold" fill="#000">Sham</text>
<path d="M517.30 257.30V253.70H574.10V257.30" fill="none" stroke="#151515" stroke-width="1.3"/>
<text x="545.70" y="252.00" font-size="11" text-anchor="middle" font-weight="bold" fill="#000">ns</text>
<path d="M517.30 276.80V273.20H545.50V276.80" fill="none" stroke="#151515" stroke-width="1.3"/>
<text x="531.40" y="271.50" font-size="11" text-anchor="middle" font-weight="bold" fill="#000">ns</text>
<path d="M610.40 257.30V253.70H666.90V257.30" fill="none" stroke="#151515" stroke-width="1.3"/>
<text x="638.65" y="252.00" font-size="11" text-anchor="middle" font-weight="bold" fill="#000">ns</text>
<path d="M610.40 276.80V273.20H638.30V276.80" fill="none" stroke="#151515" stroke-width="1.3"/>
<text x="624.35" y="271.50" font-size="11" text-anchor="middle" font-weight="bold" fill="#000">ns</text>
<path d="M518.30 340.79C518.33 342.76 518.40 349.45 518.50 352.62C518.60 355.80 518.70 357.67 518.90 359.86C519.10 362.05 519.35 363.80 519.70 365.77C520.05 367.75 520.48 369.70 521.00 371.69C521.52 373.69 522.35 375.99 522.80 377.74C523.25 379.49 523.62 380.92 523.70 382.21C523.78 383.51 523.37 384.95 523.30 385.50L511.30 385.50C511.23 384.95 510.82 383.51 510.90 382.21C510.98 380.92 511.35 379.49 511.80 377.74C512.25 375.99 513.08 373.69 513.60 371.69C514.12 369.70 514.55 367.75 514.90 365.77C515.25 363.80 515.50 362.05 515.70 359.86C515.90 357.67 516.00 355.80 516.10 352.62C516.20 349.45 516.27 342.76 516.30 340.79Z" fill="none" stroke="#4f1c98" stroke-width="1.3" stroke-linejoin="round"/>
<path d="M546.60 342.11C546.60 342.61 546.68 343.38 546.60 345.13C546.52 346.88 546.08 350.17 546.10 352.62C546.12 355.08 546.43 357.40 546.70 359.86C546.97 362.31 547.38 364.88 547.70 367.35C548.02 369.83 548.35 372.24 548.60 374.72C548.85 377.19 549.13 380.42 549.20 382.21C549.27 384.01 549.03 384.95 549.00 385.50L542.00 385.50C541.97 384.95 541.73 384.01 541.80 382.21C541.87 380.42 542.15 377.19 542.40 374.72C542.65 372.24 542.98 369.83 543.30 367.35C543.62 364.88 544.03 362.31 544.30 359.86C544.57 357.40 544.88 355.08 544.90 352.62C544.92 350.17 544.48 346.88 544.40 345.13C544.32 343.38 544.40 342.61 544.40 342.11Z" fill="none" stroke="#8e184a" stroke-width="1.3" stroke-linejoin="round"/>
<path d="M575.80 350.00C575.85 351.53 576.02 356.24 576.10 359.20C576.18 362.16 576.14 364.68 576.30 367.75C576.46 370.82 576.95 374.91 577.05 377.61C577.15 380.31 576.98 382.61 576.90 383.92C576.82 385.24 576.65 385.24 576.60 385.50L571.60 385.50C571.55 385.24 571.38 385.24 571.30 383.92C571.23 382.61 571.05 380.31 571.15 377.61C571.25 374.91 571.74 370.82 571.90 367.75C572.06 364.68 572.02 362.16 572.10 359.20C572.18 356.24 572.35 351.53 572.40 350.00Z" fill="none" stroke="#3572b2" stroke-width="1.3" stroke-linejoin="round"/>
<path d="M611.10 297.39C611.18 300.20 611.48 309.41 611.60 314.23C611.73 319.05 611.73 322.27 611.85 326.32C611.97 330.38 612.07 334.06 612.30 338.55C612.52 343.05 612.87 348.40 613.20 353.28C613.53 358.17 613.97 363.43 614.30 367.88C614.63 372.33 614.98 377.04 615.20 379.98C615.42 382.91 615.53 384.58 615.60 385.50L605.20 385.50C605.27 384.58 605.38 382.91 605.60 379.98C605.82 377.04 606.17 372.33 606.50 367.88C606.83 363.43 607.27 358.17 607.60 353.28C607.93 348.40 608.27 343.05 608.50 338.55C608.73 334.06 608.83 330.38 608.95 326.32C609.07 322.27 609.07 319.05 609.20 314.23C609.32 309.41 609.62 300.20 609.70 297.39Z" fill="none" stroke="#4f1c98" stroke-width="1.3" stroke-linejoin="round"/>
<path d="M640.10 326.32C640.21 327.53 640.55 330.82 640.75 333.56C640.95 336.30 641.17 339.69 641.30 342.76C641.42 345.83 641.35 348.90 641.50 351.97C641.65 355.04 641.90 358.10 642.20 361.17C642.50 364.24 642.97 367.31 643.30 370.38C643.63 373.45 644.00 377.06 644.20 379.58C644.40 382.10 644.45 384.51 644.50 385.50L632.10 385.50C632.15 384.51 632.20 382.10 632.40 379.58C632.60 377.06 632.97 373.45 633.30 370.38C633.63 367.31 634.10 364.24 634.40 361.17C634.70 358.10 634.95 355.04 635.10 351.97C635.25 348.90 635.17 345.83 635.30 342.76C635.42 339.69 635.65 336.30 635.85 333.56C636.05 330.82 636.39 327.53 636.50 326.32Z" fill="none" stroke="#8e184a" stroke-width="1.3" stroke-linejoin="round"/>
<path d="M669.90 326.32C669.62 327.53 668.60 330.82 668.25 333.56C667.90 336.30 667.72 340.31 667.80 342.76C667.88 345.22 668.02 346.16 668.70 348.29C669.38 350.41 671.03 353.09 671.90 355.52C672.77 357.95 673.48 360.41 673.90 362.88C674.32 365.36 674.50 367.59 674.45 370.38C674.40 373.16 673.83 377.06 673.60 379.58C673.38 382.10 673.18 384.51 673.10 385.50L660.70 385.50C660.62 384.51 660.42 382.10 660.20 379.58C659.97 377.06 659.40 373.16 659.35 370.38C659.30 367.59 659.48 365.36 659.90 362.88C660.32 360.41 661.03 357.95 661.90 355.52C662.77 353.09 664.42 350.41 665.10 348.29C665.78 346.16 665.92 345.22 666.00 342.76C666.08 340.31 665.90 336.30 665.55 333.56C665.20 330.82 664.17 327.53 663.90 326.32Z" fill="none" stroke="#3572b2" stroke-width="1.3" stroke-linejoin="round"/>
<line x1="517.30" y1="340.79" x2="545.50" y2="342.11" stroke="#999" stroke-width="1.0"/>
<line x1="517.30" y1="361.83" x2="545.50" y2="361.83" stroke="#999" stroke-width="1.0"/>
<line x1="517.30" y1="365.77" x2="545.50" y2="368.40" stroke="#999" stroke-width="1.0"/>
<line x1="517.30" y1="368.40" x2="545.50" y2="372.35" stroke="#999" stroke-width="1.0"/>
<line x1="517.30" y1="372.35" x2="545.50" y2="374.98" stroke="#999" stroke-width="1.0"/>
<line x1="517.30" y1="376.30" x2="545.50" y2="376.30" stroke="#999" stroke-width="1.0"/>
<line x1="517.30" y1="378.93" x2="545.50" y2="381.56" stroke="#999" stroke-width="1.0"/>
<line x1="517.30" y1="382.87" x2="545.50" y2="350.00" stroke="#999" stroke-width="1.0"/>
<line x1="517.30" y1="385.50" x2="545.50" y2="385.50" stroke="#999" stroke-width="1.0"/>
<line x1="517.30" y1="385.50" x2="545.50" y2="381.56" stroke="#999" stroke-width="1.0"/>
<line x1="545.50" y1="361.83" x2="574.10" y2="350.00" stroke="#999" stroke-width="1.0"/>
<line x1="545.50" y1="350.00" x2="574.10" y2="374.98" stroke="#999" stroke-width="1.0"/>
<line x1="545.50" y1="372.35" x2="574.10" y2="374.98" stroke="#999" stroke-width="1.0"/>
<line x1="545.50" y1="374.98" x2="574.10" y2="385.50" stroke="#999" stroke-width="1.0"/>
<line x1="545.50" y1="385.50" x2="574.10" y2="385.50" stroke="#999" stroke-width="1.0"/>
<line x1="610.40" y1="297.39" x2="638.30" y2="326.32" stroke="#999" stroke-width="1.0"/>
<line x1="610.40" y1="321.06" x2="638.30" y2="342.11" stroke="#999" stroke-width="1.0"/>
<line x1="610.40" y1="323.69" x2="638.30" y2="344.74" stroke="#999" stroke-width="1.0"/>
<line x1="610.40" y1="330.27" x2="638.30" y2="332.90" stroke="#999" stroke-width="1.0"/>
<line x1="610.40" y1="353.94" x2="638.30" y2="332.90" stroke="#999" stroke-width="1.0"/>
<line x1="610.40" y1="356.57" x2="638.30" y2="355.25" stroke="#999" stroke-width="1.0"/>
<line x1="610.40" y1="367.09" x2="638.30" y2="372.35" stroke="#999" stroke-width="1.0"/>
<line x1="610.40" y1="368.40" x2="638.30" y2="385.50" stroke="#999" stroke-width="1.0"/>
<line x1="610.40" y1="374.98" x2="638.30" y2="352.62" stroke="#999" stroke-width="1.0"/>
<line x1="610.40" y1="382.87" x2="638.30" y2="376.30" stroke="#999" stroke-width="1.0"/>
<line x1="610.40" y1="385.50" x2="638.30" y2="385.50" stroke="#999" stroke-width="1.0"/>
<line x1="638.30" y1="326.32" x2="666.90" y2="326.32" stroke="#999" stroke-width="1.0"/>
<line x1="638.30" y1="332.90" x2="666.90" y2="361.83" stroke="#999" stroke-width="1.0"/>
<line x1="638.30" y1="352.62" x2="666.90" y2="365.77" stroke="#999" stroke-width="1.0"/>
<line x1="638.30" y1="376.30" x2="666.90" y2="378.93" stroke="#999" stroke-width="1.0"/>
<line x1="638.30" y1="385.50" x2="666.90" y2="385.50" stroke="#999" stroke-width="1.0"/>
<ellipse cx="517.30" cy="340.79" rx="1.5" ry="1.2" fill="#4f1c98"/>
<ellipse cx="517.30" cy="361.83" rx="1.5" ry="1.2" fill="#4f1c98"/>
<ellipse cx="517.30" cy="365.77" rx="1.5" ry="1.2" fill="#4f1c98"/>
<ellipse cx="517.30" cy="368.40" rx="1.5" ry="1.2" fill="#4f1c98"/>
<ellipse cx="517.30" cy="372.35" rx="1.5" ry="1.2" fill="#4f1c98"/>
<ellipse cx="517.30" cy="376.30" rx="1.5" ry="1.2" fill="#4f1c98"/>
<ellipse cx="517.30" cy="378.93" rx="1.5" ry="1.2" fill="#4f1c98"/>
<ellipse cx="517.30" cy="382.87" rx="1.5" ry="1.2" fill="#4f1c98"/>
<ellipse cx="517.30" cy="385.50" rx="1.5" ry="1.2" fill="#4f1c98"/>
<ellipse cx="545.50" cy="342.11" rx="1.5" ry="1.2" fill="#8e184a"/>
<ellipse cx="545.50" cy="368.40" rx="1.5" ry="1.2" fill="#8e184a"/>
<ellipse cx="545.50" cy="372.35" rx="1.5" ry="1.2" fill="#8e184a"/>
<ellipse cx="545.50" cy="374.98" rx="1.5" ry="1.2" fill="#8e184a"/>
<ellipse cx="545.50" cy="376.30" rx="1.5" ry="1.2" fill="#8e184a"/>
<ellipse cx="545.50" cy="381.56" rx="1.5" ry="1.2" fill="#8e184a"/>
<ellipse cx="545.50" cy="385.50" rx="1.5" ry="1.2" fill="#8e184a"/>
<ellipse cx="574.10" cy="350.00" rx="1.5" ry="1.2" fill="#3572b2"/>
<ellipse cx="574.10" cy="374.98" rx="1.5" ry="1.2" fill="#3572b2"/>
<ellipse cx="574.10" cy="384.19" rx="1.5" ry="1.2" fill="#3572b2"/>
<ellipse cx="574.10" cy="385.50" rx="1.5" ry="1.2" fill="#3572b2"/>
<ellipse cx="610.40" cy="297.39" rx="1.5" ry="1.2" fill="#4f1c98"/>
<ellipse cx="610.40" cy="321.06" rx="1.5" ry="1.2" fill="#4f1c98"/>
<ellipse cx="610.40" cy="323.69" rx="1.5" ry="1.2" fill="#4f1c98"/>
<ellipse cx="610.40" cy="353.94" rx="1.5" ry="1.2" fill="#4f1c98"/>
<ellipse cx="610.40" cy="355.25" rx="1.5" ry="1.2" fill="#4f1c98"/>
<ellipse cx="610.40" cy="367.09" rx="1.5" ry="1.2" fill="#4f1c98"/>
<ellipse cx="610.40" cy="368.40" rx="1.5" ry="1.2" fill="#4f1c98"/>
<ellipse cx="610.40" cy="374.98" rx="1.5" ry="1.2" fill="#4f1c98"/>
<ellipse cx="610.40" cy="382.87" rx="1.5" ry="1.2" fill="#4f1c98"/>
<ellipse cx="610.40" cy="385.50" rx="1.5" ry="1.2" fill="#4f1c98"/>
<ellipse cx="638.30" cy="326.32" rx="1.5" ry="1.2" fill="#8e184a"/>
<ellipse cx="638.30" cy="332.90" rx="1.5" ry="1.2" fill="#8e184a"/>
<ellipse cx="638.30" cy="342.11" rx="1.5" ry="1.2" fill="#8e184a"/>
<ellipse cx="638.30" cy="344.74" rx="1.5" ry="1.2" fill="#8e184a"/>
<ellipse cx="638.30" cy="352.62" rx="1.5" ry="1.2" fill="#8e184a"/>
<ellipse cx="638.30" cy="356.57" rx="1.5" ry="1.2" fill="#8e184a"/>
<ellipse cx="638.30" cy="372.35" rx="1.5" ry="1.2" fill="#8e184a"/>
<ellipse cx="638.30" cy="377.61" rx="1.5" ry="1.2" fill="#8e184a"/>
<ellipse cx="638.30" cy="385.50" rx="1.5" ry="1.2" fill="#8e184a"/>
<ellipse cx="666.90" cy="326.32" rx="1.5" ry="1.2" fill="#3572b2"/>
<ellipse cx="666.90" cy="360.51" rx="1.5" ry="1.2" fill="#3572b2"/>
<ellipse cx="666.90" cy="365.77" rx="1.5" ry="1.2" fill="#3572b2"/>
<ellipse cx="666.90" cy="378.93" rx="1.5" ry="1.2" fill="#3572b2"/>
<ellipse cx="666.90" cy="385.50" rx="1.5" ry="1.2" fill="#3572b2"/>
</svg>
</body></html>
